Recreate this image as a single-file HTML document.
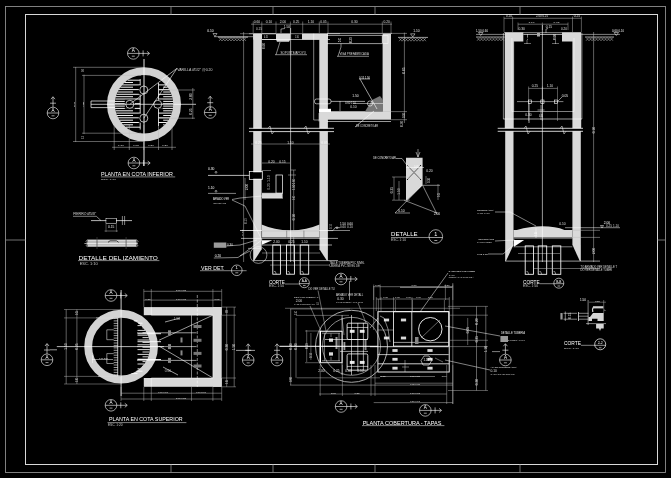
<!DOCTYPE html>
<html><head><meta charset="utf-8"><style>
html,body{margin:0;padding:0;background:#000;width:671px;height:478px;overflow:hidden}
svg{display:block;will-change:transform}
text{font-family:"Liberation Sans",sans-serif}
</style></head><body>
<svg width="671" height="478" viewBox="0 0 671 478" shape-rendering="auto">
<rect width="671" height="478" fill="#000"/>
<rect x="5.5" y="6.5" width="660.0" height="466.0" stroke="#8e8e8e" stroke-width="0.9" fill="none"/>
<rect x="25.5" y="14.5" width="632.0" height="450.0" stroke="#d8d8d8" stroke-width="1.0" fill="none"/>
<line x1="171.0" y1="6.5" x2="171.0" y2="14.5" stroke="#8e8e8e" stroke-width="0.8"/>
<line x1="171.0" y1="464.5" x2="171.0" y2="472.5" stroke="#8e8e8e" stroke-width="0.8"/>
<line x1="273.0" y1="6.5" x2="273.0" y2="14.5" stroke="#8e8e8e" stroke-width="0.8"/>
<line x1="273.0" y1="464.5" x2="273.0" y2="472.5" stroke="#8e8e8e" stroke-width="0.8"/>
<line x1="375.0" y1="6.5" x2="375.0" y2="14.5" stroke="#8e8e8e" stroke-width="0.8"/>
<line x1="375.0" y1="464.5" x2="375.0" y2="472.5" stroke="#8e8e8e" stroke-width="0.8"/>
<line x1="520.0" y1="6.5" x2="520.0" y2="14.5" stroke="#8e8e8e" stroke-width="0.8"/>
<line x1="520.0" y1="464.5" x2="520.0" y2="472.5" stroke="#8e8e8e" stroke-width="0.8"/>
<line x1="5.5" y1="240.0" x2="25.5" y2="240.0" stroke="#8e8e8e" stroke-width="0.8"/>
<line x1="657.5" y1="240.0" x2="665.5" y2="240.0" stroke="#8e8e8e" stroke-width="0.8"/>
<circle cx="144.0" cy="104.3" r="33.1" stroke="#d2d2d2" stroke-width="7.8" fill="none"/>
<line x1="127.5" y1="80.2" x2="140.2" y2="80.2" stroke="#ffffff" stroke-width="0.95"/>
<line x1="124.5" y1="82.5" x2="133.0" y2="82.5" stroke="#ffffff" stroke-width="0.95"/>
<line x1="122.2" y1="84.9" x2="140.2" y2="84.9" stroke="#ffffff" stroke-width="0.95"/>
<line x1="158.5" y1="84.9" x2="165.8" y2="84.9" stroke="#ffffff" stroke-width="0.95"/>
<line x1="120.3" y1="87.2" x2="133.0" y2="87.2" stroke="#ffffff" stroke-width="0.95"/>
<line x1="163.2" y1="87.2" x2="167.7" y2="87.2" stroke="#ffffff" stroke-width="0.95"/>
<line x1="118.8" y1="89.6" x2="140.2" y2="89.6" stroke="#ffffff" stroke-width="0.95"/>
<line x1="158.5" y1="89.6" x2="169.2" y2="89.6" stroke="#ffffff" stroke-width="0.95"/>
<line x1="117.5" y1="92.0" x2="133.0" y2="92.0" stroke="#ffffff" stroke-width="0.95"/>
<line x1="163.2" y1="92.0" x2="170.5" y2="92.0" stroke="#ffffff" stroke-width="0.95"/>
<line x1="116.6" y1="94.3" x2="140.2" y2="94.3" stroke="#ffffff" stroke-width="0.95"/>
<line x1="158.5" y1="94.3" x2="171.4" y2="94.3" stroke="#ffffff" stroke-width="0.95"/>
<line x1="115.8" y1="96.7" x2="133.0" y2="96.7" stroke="#ffffff" stroke-width="0.95"/>
<line x1="163.2" y1="96.7" x2="172.2" y2="96.7" stroke="#ffffff" stroke-width="0.95"/>
<line x1="115.3" y1="99.0" x2="140.2" y2="99.0" stroke="#ffffff" stroke-width="0.95"/>
<line x1="158.5" y1="99.0" x2="172.7" y2="99.0" stroke="#ffffff" stroke-width="0.95"/>
<line x1="114.9" y1="101.4" x2="133.0" y2="101.4" stroke="#ffffff" stroke-width="0.95"/>
<line x1="163.2" y1="101.4" x2="173.1" y2="101.4" stroke="#ffffff" stroke-width="0.95"/>
<line x1="114.8" y1="103.7" x2="140.2" y2="103.7" stroke="#ffffff" stroke-width="0.95"/>
<line x1="158.5" y1="103.7" x2="173.2" y2="103.7" stroke="#ffffff" stroke-width="0.95"/>
<line x1="114.9" y1="106.1" x2="133.0" y2="106.1" stroke="#ffffff" stroke-width="0.95"/>
<line x1="163.2" y1="106.1" x2="173.1" y2="106.1" stroke="#ffffff" stroke-width="0.95"/>
<line x1="115.1" y1="108.4" x2="140.2" y2="108.4" stroke="#ffffff" stroke-width="0.95"/>
<line x1="158.5" y1="108.4" x2="172.9" y2="108.4" stroke="#ffffff" stroke-width="0.95"/>
<line x1="115.5" y1="110.8" x2="133.0" y2="110.8" stroke="#ffffff" stroke-width="0.95"/>
<line x1="163.2" y1="110.8" x2="172.5" y2="110.8" stroke="#ffffff" stroke-width="0.95"/>
<line x1="116.2" y1="113.1" x2="140.2" y2="113.1" stroke="#ffffff" stroke-width="0.95"/>
<line x1="158.5" y1="113.1" x2="171.8" y2="113.1" stroke="#ffffff" stroke-width="0.95"/>
<line x1="117.0" y1="115.5" x2="133.0" y2="115.5" stroke="#ffffff" stroke-width="0.95"/>
<line x1="163.2" y1="115.5" x2="171.0" y2="115.5" stroke="#ffffff" stroke-width="0.95"/>
<line x1="118.1" y1="117.8" x2="140.2" y2="117.8" stroke="#ffffff" stroke-width="0.95"/>
<line x1="158.5" y1="117.8" x2="169.9" y2="117.8" stroke="#ffffff" stroke-width="0.95"/>
<line x1="119.5" y1="120.2" x2="133.0" y2="120.2" stroke="#ffffff" stroke-width="0.95"/>
<line x1="163.2" y1="120.2" x2="168.5" y2="120.2" stroke="#ffffff" stroke-width="0.95"/>
<line x1="121.2" y1="122.5" x2="140.2" y2="122.5" stroke="#ffffff" stroke-width="0.95"/>
<line x1="158.5" y1="122.5" x2="166.8" y2="122.5" stroke="#ffffff" stroke-width="0.95"/>
<line x1="123.3" y1="124.8" x2="133.0" y2="124.8" stroke="#ffffff" stroke-width="0.95"/>
<line x1="163.2" y1="124.8" x2="164.7" y2="124.8" stroke="#ffffff" stroke-width="0.95"/>
<line x1="125.9" y1="127.2" x2="140.2" y2="127.2" stroke="#ffffff" stroke-width="0.95"/>
<line x1="140.2" y1="79.0" x2="140.2" y2="129.5" stroke="#ffffff" stroke-width="0.8"/>
<line x1="158.5" y1="83.0" x2="158.5" y2="126.0" stroke="#ffffff" stroke-width="0.8"/>
<circle cx="143.8" cy="90.0" r="3.8" stroke="#000" stroke-width="0.1" fill="#000"/>
<rect x="138.8" y="85.5" width="10.0" height="9.0" fill="#000"/>
<circle cx="143.8" cy="90.0" r="4.0" stroke="#ffffff" stroke-width="0.7" fill="none"/>
<circle cx="129.8" cy="104.3" r="3.8" stroke="#000" stroke-width="0.1" fill="#000"/>
<rect x="124.8" y="99.8" width="10.0" height="9.0" fill="#000"/>
<circle cx="129.8" cy="104.3" r="4.0" stroke="#ffffff" stroke-width="0.7" fill="none"/>
<circle cx="157.7" cy="104.3" r="3.8" stroke="#000" stroke-width="0.1" fill="#000"/>
<rect x="152.7" y="99.8" width="10.0" height="9.0" fill="#000"/>
<circle cx="157.7" cy="104.3" r="4.0" stroke="#ffffff" stroke-width="0.7" fill="none"/>
<circle cx="143.8" cy="118.2" r="3.8" stroke="#000" stroke-width="0.1" fill="#000"/>
<rect x="138.8" y="113.7" width="10.0" height="9.0" fill="#000"/>
<circle cx="143.8" cy="118.2" r="4.0" stroke="#ffffff" stroke-width="0.7" fill="none"/>
<line x1="144.0" y1="59.0" x2="144.0" y2="166.0" stroke="#ffffff" stroke-width="0.9"/>
<line x1="91.0" y1="104.3" x2="196.0" y2="104.3" stroke="#ffffff" stroke-width="0.7"/>
<line x1="91.0" y1="101.0" x2="115.0" y2="101.0" stroke="#ffffff" stroke-width="0.7"/>
<line x1="91.0" y1="107.6" x2="115.0" y2="107.6" stroke="#ffffff" stroke-width="0.7"/>
<line x1="91.0" y1="101.0" x2="91.0" y2="107.6" stroke="#ffffff" stroke-width="0.7"/>
<line x1="177.0" y1="68.3" x2="129.8" y2="104.3" stroke="#ffffff" stroke-width="0.6"/>
<line x1="177.0" y1="68.3" x2="143.8" y2="118.2" stroke="#ffffff" stroke-width="0.6"/>
<text x="177.2" y="71.3" font-size="4.2" fill="#d0d0d0" text-anchor="start" textLength="35.3" lengthAdjust="spacingAndGlyphs">VARILLA Ø1/2" @0.20</text>
<line x1="75.7" y1="67.0" x2="75.7" y2="142.0" stroke="#bdbdbd" stroke-width="0.5"/>
<line x1="84.0" y1="74.7" x2="84.0" y2="134.0" stroke="#bdbdbd" stroke-width="0.5"/>
<line x1="73.0" y1="67.3" x2="143.0" y2="67.3" stroke="#bdbdbd" stroke-width="0.5"/>
<line x1="73.0" y1="141.5" x2="143.0" y2="141.5" stroke="#bdbdbd" stroke-width="0.5"/>
<line x1="82.0" y1="75.4" x2="141.0" y2="75.4" stroke="#bdbdbd" stroke-width="0.5"/>
<line x1="82.0" y1="133.2" x2="141.0" y2="133.2" stroke="#bdbdbd" stroke-width="0.5"/>
<text x="75.1" y="107.0" font-size="2.21" fill="#ffffff" opacity="1.00" textLength="5.0" lengthAdjust="spacingAndGlyphs" transform="rotate(-90 75.1 107.0)">0.15</text>
<text x="83.5" y="107.0" font-size="2.08" fill="#ffffff" opacity="1.00" textLength="5.0" lengthAdjust="spacingAndGlyphs" transform="rotate(-90 83.5 107.0)">1.50</text>
<text x="83.9" y="72.0" font-size="2.60" fill="#ffffff" opacity="0.85" textLength="3.0" lengthAdjust="spacingAndGlyphs" transform="rotate(-90 83.9 72.0)">0.60</text>
<text x="83.9" y="139.0" font-size="2.60" fill="#ffffff" opacity="0.85" textLength="3.0" lengthAdjust="spacingAndGlyphs" transform="rotate(-90 83.9 139.0)">0.10</text>
<line x1="192.8" y1="88.0" x2="192.8" y2="119.0" stroke="#bdbdbd" stroke-width="0.5"/>
<line x1="158.0" y1="90.0" x2="195.0" y2="90.0" stroke="#bdbdbd" stroke-width="0.5"/>
<line x1="158.0" y1="118.2" x2="195.0" y2="118.2" stroke="#bdbdbd" stroke-width="0.5"/>
<text x="191.9" y="99.7" font-size="2.60" fill="#ffffff" opacity="0.85" textLength="6.4" lengthAdjust="spacingAndGlyphs" transform="rotate(-90 191.9 99.7)">2.00</text>
<text x="191.9" y="114.7" font-size="2.60" fill="#ffffff" opacity="0.85" textLength="6.4" lengthAdjust="spacingAndGlyphs" transform="rotate(-90 191.9 114.7)">0.25</text>
<line x1="112.0" y1="147.3" x2="176.0" y2="147.3" stroke="#bdbdbd" stroke-width="0.5"/>
<line x1="114.2" y1="125.0" x2="114.2" y2="150.0" stroke="#bdbdbd" stroke-width="0.5"/>
<line x1="129.3" y1="125.0" x2="129.3" y2="150.0" stroke="#bdbdbd" stroke-width="0.5"/>
<line x1="143.8" y1="125.0" x2="143.8" y2="150.0" stroke="#bdbdbd" stroke-width="0.5"/>
<line x1="158.5" y1="125.0" x2="158.5" y2="150.0" stroke="#bdbdbd" stroke-width="0.5"/>
<line x1="172.0" y1="125.0" x2="172.0" y2="150.0" stroke="#bdbdbd" stroke-width="0.5"/>
<text x="118.1" y="146.2" font-size="2.34" fill="#ffffff" opacity="0.85" textLength="5.8" lengthAdjust="spacingAndGlyphs">1.10</text>
<text x="133.1" y="146.2" font-size="2.34" fill="#ffffff" opacity="0.85" textLength="5.8" lengthAdjust="spacingAndGlyphs">0.05</text>
<text x="148.1" y="146.2" font-size="2.34" fill="#ffffff" opacity="0.85" textLength="5.8" lengthAdjust="spacingAndGlyphs">0.30</text>
<text x="162.1" y="146.2" font-size="2.34" fill="#ffffff" opacity="0.85" textLength="5.8" lengthAdjust="spacingAndGlyphs">0.20</text>
<circle cx="133.3" cy="53.4" r="5.8" stroke="#ffffff" stroke-width="0.6" fill="none"/>
<line x1="127.5" y1="53.4" x2="139.1" y2="53.4" stroke="#ffffff" stroke-width="0.6"/>
<text x="133.3" y="52.2" font-size="4.5" fill="#ffffff" text-anchor="middle">A</text>
<line x1="131.8" y1="56.2" x2="134.8" y2="56.2" stroke="#ffffff" stroke-width="0.6"/>
<line x1="139.1" y1="53.4" x2="149.1" y2="53.4" stroke="#ffffff" stroke-width="0.6"/>
<polyline points="147.1,51.4 149.6,53.4 147.1,55.4" stroke="#ffffff" stroke-width="0.6" fill="none"/>
<line x1="143.1" y1="50.4" x2="143.1" y2="56.4" stroke="#ffffff" stroke-width="0.6"/>
<circle cx="53.0" cy="113.0" r="5.8" stroke="#ffffff" stroke-width="0.6" fill="none"/>
<line x1="47.2" y1="113.0" x2="58.8" y2="113.0" stroke="#ffffff" stroke-width="0.6"/>
<text x="53.0" y="111.8" font-size="4.5" fill="#ffffff" text-anchor="middle">A</text>
<line x1="51.5" y1="115.8" x2="54.5" y2="115.8" stroke="#ffffff" stroke-width="0.6"/>
<line x1="53.0" y1="107.2" x2="53.0" y2="97.2" stroke="#ffffff" stroke-width="0.6"/>
<polyline points="51.0,99.2 53.0,96.7 55.0,99.2" stroke="#ffffff" stroke-width="0.6" fill="none"/>
<line x1="50.0" y1="103.2" x2="56.0" y2="103.2" stroke="#ffffff" stroke-width="0.6"/>
<circle cx="210.2" cy="112.5" r="5.8" stroke="#ffffff" stroke-width="0.6" fill="none"/>
<line x1="204.4" y1="112.5" x2="216.0" y2="112.5" stroke="#ffffff" stroke-width="0.6"/>
<text x="210.2" y="111.3" font-size="4.5" fill="#ffffff" text-anchor="middle">A</text>
<line x1="208.7" y1="115.3" x2="211.7" y2="115.3" stroke="#ffffff" stroke-width="0.6"/>
<line x1="210.2" y1="106.7" x2="210.2" y2="96.7" stroke="#ffffff" stroke-width="0.6"/>
<polyline points="208.2,98.7 210.2,96.2 212.2,98.7" stroke="#ffffff" stroke-width="0.6" fill="none"/>
<line x1="207.2" y1="102.7" x2="213.2" y2="102.7" stroke="#ffffff" stroke-width="0.6"/>
<circle cx="133.9" cy="163.0" r="5.8" stroke="#ffffff" stroke-width="0.6" fill="none"/>
<line x1="128.1" y1="163.0" x2="139.7" y2="163.0" stroke="#ffffff" stroke-width="0.6"/>
<text x="133.9" y="161.8" font-size="4.5" fill="#ffffff" text-anchor="middle">A</text>
<line x1="132.4" y1="165.8" x2="135.4" y2="165.8" stroke="#ffffff" stroke-width="0.6"/>
<line x1="139.7" y1="163.0" x2="149.7" y2="163.0" stroke="#ffffff" stroke-width="0.6"/>
<polyline points="147.7,161.0 150.2,163.0 147.7,165.0" stroke="#ffffff" stroke-width="0.6" fill="none"/>
<line x1="143.7" y1="160.0" x2="143.7" y2="166.0" stroke="#ffffff" stroke-width="0.6"/>
<text x="101.0" y="176.0" font-size="5" fill="#ffffff" text-anchor="start" textLength="71.8" lengthAdjust="spacingAndGlyphs">PLANTA  EN  COTA  INFERIOR</text>
<line x1="101.0" y1="176.9" x2="175.2" y2="176.9" stroke="#ffffff" stroke-width="0.5"/>
<text x="101.0" y="180.2" font-size="2.4" fill="#cccccc" text-anchor="start" textLength="15.0" lengthAdjust="spacingAndGlyphs">ESC. 1:10</text>
<polygon points="253.2,33.7 261.8,33.7 261.8,128.5 253.2,128.5" fill="#d9d9d9"/>
<polygon points="253.2,131.6 261.6,131.6 261.6,249.3 254.3,260.6 253.2,260.6" fill="#d9d9d9"/>
<polygon points="319.3,39.5 327.9,39.5 327.9,128.5 319.3,128.5" fill="#d9d9d9"/>
<polygon points="319.5,131.6 327.9,131.6 327.9,260.6 326.8,260.6 319.5,249.3" fill="#d9d9d9"/>
<line x1="249.0" y1="128.3" x2="334.0" y2="128.3" stroke="#ffffff" stroke-width="0.8"/>
<line x1="249.0" y1="131.6" x2="334.0" y2="131.6" stroke="#ffffff" stroke-width="0.8"/>
<polyline points="268.0,128.3 270.0,126.0 272.0,134.0 274.0,131.6" stroke="#ffffff" stroke-width="0.5" fill="none"/>
<polyline points="304.0,128.3 306.0,126.0 308.0,134.0 310.0,131.6" stroke="#ffffff" stroke-width="0.5" fill="none"/>
<rect x="253.2" y="33.7" width="8.8" height="5.8" fill="#d9d9d9"/>
<rect x="302.0" y="33.7" width="26.0" height="5.8" fill="#d9d9d9"/>
<line x1="262.0" y1="33.7" x2="276.0" y2="33.7" stroke="#ffffff" stroke-width="0.6"/>
<line x1="262.0" y1="39.5" x2="276.0" y2="39.5" stroke="#ffffff" stroke-width="0.6"/>
<polygon points="276.0,33.7 290.4,33.7 290.4,39.5 289.0,41.8 277.0,41.8 276.0,39.5" fill="#d9d9d9"/>
<line x1="249.0" y1="33.7" x2="340.0" y2="33.7" stroke="#ffffff" stroke-width="0.5"/>
<line x1="262.0" y1="39.5" x2="330.0" y2="39.5" stroke="#ffffff" stroke-width="0.6"/>
<text x="264.0" y="37.7" font-size="2.60" fill="#ffffff" opacity="0.85" textLength="4.0" lengthAdjust="spacingAndGlyphs">0.15</text>
<text x="295.0" y="37.7" font-size="2.60" fill="#ffffff" opacity="0.85" textLength="4.0" lengthAdjust="spacingAndGlyphs">1.50</text>
<line x1="313.7" y1="33.7" x2="313.7" y2="120.0" stroke="#ffffff" stroke-width="0.5"/>
<line x1="313.7" y1="120.0" x2="320.0" y2="120.0" stroke="#ffffff" stroke-width="0.5"/>
<line x1="251.0" y1="24.2" x2="392.0" y2="24.2" stroke="#bdbdbd" stroke-width="0.5"/>
<line x1="253.2" y1="21.5" x2="253.2" y2="33.0" stroke="#bdbdbd" stroke-width="0.45"/>
<line x1="261.8" y1="21.5" x2="261.8" y2="33.0" stroke="#bdbdbd" stroke-width="0.45"/>
<line x1="276.0" y1="21.5" x2="276.0" y2="33.0" stroke="#bdbdbd" stroke-width="0.45"/>
<line x1="290.4" y1="21.5" x2="290.4" y2="33.0" stroke="#bdbdbd" stroke-width="0.45"/>
<line x1="302.7" y1="21.5" x2="302.7" y2="33.0" stroke="#bdbdbd" stroke-width="0.45"/>
<line x1="319.3" y1="21.5" x2="319.3" y2="33.0" stroke="#bdbdbd" stroke-width="0.45"/>
<line x1="328.0" y1="21.5" x2="328.0" y2="33.0" stroke="#bdbdbd" stroke-width="0.45"/>
<line x1="382.3" y1="21.5" x2="382.3" y2="33.0" stroke="#bdbdbd" stroke-width="0.45"/>
<line x1="391.0" y1="21.5" x2="391.0" y2="33.0" stroke="#bdbdbd" stroke-width="0.45"/>
<text x="253.8" y="22.5" font-size="2.60" fill="#ffffff" opacity="0.85" textLength="6.4" lengthAdjust="spacingAndGlyphs">0.60</text>
<text x="265.8" y="22.5" font-size="2.60" fill="#ffffff" opacity="0.85" textLength="6.4" lengthAdjust="spacingAndGlyphs">0.10</text>
<text x="279.8" y="22.5" font-size="2.60" fill="#ffffff" opacity="0.85" textLength="6.4" lengthAdjust="spacingAndGlyphs">2.00</text>
<text x="293.0" y="22.5" font-size="2.60" fill="#ffffff" opacity="0.85" textLength="6.4" lengthAdjust="spacingAndGlyphs">0.25</text>
<text x="307.8" y="22.5" font-size="2.60" fill="#ffffff" opacity="0.85" textLength="6.4" lengthAdjust="spacingAndGlyphs">1.10</text>
<text x="320.3" y="22.5" font-size="2.60" fill="#ffffff" opacity="0.85" textLength="6.4" lengthAdjust="spacingAndGlyphs">0.05</text>
<text x="351.3" y="22.5" font-size="2.60" fill="#ffffff" opacity="0.85" textLength="6.4" lengthAdjust="spacingAndGlyphs">0.30</text>
<text x="383.5" y="22.5" font-size="2.60" fill="#ffffff" opacity="0.85" textLength="6.4" lengthAdjust="spacingAndGlyphs">0.20</text>
<text x="256.0" y="29.9" font-size="2.60" fill="#ffffff" opacity="0.77" textLength="6.0" lengthAdjust="spacingAndGlyphs">0.15</text>
<text x="283.8" y="28.2" font-size="2.60" fill="#ffffff" opacity="0.85" textLength="6.4" lengthAdjust="spacingAndGlyphs">1.50</text>
<polyline points="285.0,28.5 281.0,29.0 281.0,33.0" stroke="#ffffff" stroke-width="0.5" fill="none"/>
<text x="265.2" y="49.0" font-size="2.60" fill="#ffffff" opacity="0.85" textLength="6.0" lengthAdjust="spacingAndGlyphs" transform="rotate(-90 265.2 49.0)">0.60</text>
<text x="280.5" y="53.5" font-size="3.4" fill="#d8d8d8" text-anchor="start" textLength="25.5" lengthAdjust="spacingAndGlyphs">SOPORTE/APOYO</text>
<line x1="275.0" y1="54.7" x2="307.0" y2="54.7" stroke="#ffffff" stroke-width="0.5"/>
<line x1="276.0" y1="54.7" x2="280.0" y2="42.0" stroke="#ffffff" stroke-width="0.5"/>
<text x="207.3" y="31.8" font-size="2.60" fill="#ffffff" opacity="1.00" textLength="6.4" lengthAdjust="spacingAndGlyphs">0.10</text>
<polygon points="213.0,33.5 217.0,33.5 215.0,36.5" stroke="#ffffff" stroke-width="0.5" fill="none"/>
<line x1="214.0" y1="36.7" x2="253.0" y2="36.7" stroke="#ffffff" stroke-width="0.5"/>
<line x1="218.0" y1="37.2" x2="248.0" y2="37.2" stroke="#ffffff" stroke-width="0.6"/>
<line x1="219.0" y1="41.0" x2="222.0" y2="37.6" stroke="#b0b0b0" stroke-width="0.55"/>
<line x1="219.0" y1="37.6" x2="222.0" y2="41.0" stroke="#b0b0b0" stroke-width="0.55"/>
<line x1="222.0" y1="41.0" x2="225.0" y2="37.6" stroke="#b0b0b0" stroke-width="0.55"/>
<line x1="222.0" y1="37.6" x2="225.0" y2="41.0" stroke="#b0b0b0" stroke-width="0.55"/>
<line x1="225.0" y1="41.0" x2="228.0" y2="37.6" stroke="#b0b0b0" stroke-width="0.55"/>
<line x1="225.0" y1="37.6" x2="228.0" y2="41.0" stroke="#b0b0b0" stroke-width="0.55"/>
<line x1="228.0" y1="41.0" x2="231.0" y2="37.6" stroke="#b0b0b0" stroke-width="0.55"/>
<line x1="228.0" y1="37.6" x2="231.0" y2="41.0" stroke="#b0b0b0" stroke-width="0.55"/>
<line x1="231.0" y1="41.0" x2="234.0" y2="37.6" stroke="#b0b0b0" stroke-width="0.55"/>
<line x1="231.0" y1="37.6" x2="234.0" y2="41.0" stroke="#b0b0b0" stroke-width="0.55"/>
<line x1="234.0" y1="41.0" x2="237.0" y2="37.6" stroke="#b0b0b0" stroke-width="0.55"/>
<line x1="234.0" y1="37.6" x2="237.0" y2="41.0" stroke="#b0b0b0" stroke-width="0.55"/>
<line x1="237.0" y1="41.0" x2="240.0" y2="37.6" stroke="#b0b0b0" stroke-width="0.55"/>
<line x1="237.0" y1="37.6" x2="240.0" y2="41.0" stroke="#b0b0b0" stroke-width="0.55"/>
<line x1="240.0" y1="41.0" x2="243.0" y2="37.6" stroke="#b0b0b0" stroke-width="0.55"/>
<line x1="240.0" y1="37.6" x2="243.0" y2="41.0" stroke="#b0b0b0" stroke-width="0.55"/>
<line x1="243.0" y1="41.0" x2="246.0" y2="37.6" stroke="#b0b0b0" stroke-width="0.55"/>
<line x1="243.0" y1="37.6" x2="246.0" y2="41.0" stroke="#b0b0b0" stroke-width="0.55"/>
<line x1="243.6" y1="32.0" x2="243.6" y2="262.0" stroke="#bdbdbd" stroke-width="0.5"/>
<line x1="240.0" y1="33.7" x2="253.0" y2="33.7" stroke="#bdbdbd" stroke-width="0.5"/>
<line x1="327.0" y1="33.4" x2="392.0" y2="33.4" stroke="#ffffff" stroke-width="0.6"/>
<line x1="327.0" y1="35.4" x2="390.0" y2="35.4" stroke="#ffffff" stroke-width="0.6"/>
<line x1="327.0" y1="43.6" x2="382.3" y2="43.6" stroke="#ffffff" stroke-width="0.6"/>
<line x1="382.3" y1="35.4" x2="382.3" y2="43.6" stroke="#ffffff" stroke-width="0.6"/>
<rect x="382.6" y="33.7" width="8.4" height="77.9" fill="#d9d9d9"/>
<rect x="382.8" y="35.8" width="5.2" height="7.7" stroke="#ffffff" stroke-width="0.5" fill="none"/>
<rect x="319.3" y="111.6" width="71.7" height="8.1" fill="#d9d9d9"/>
<line x1="327.0" y1="121.5" x2="391.0" y2="121.5" stroke="#ffffff" stroke-width="0.6"/>
<line x1="327.0" y1="111.6" x2="391.0" y2="111.6" stroke="#ffffff" stroke-width="0.5"/>
<text x="341.4" y="42.0" font-size="2.60" fill="#ffffff" opacity="1.00" textLength="4.0" lengthAdjust="spacingAndGlyphs" transform="rotate(-90 341.4 42.0)">2.00</text>
<text x="351.9" y="43.0" font-size="2.60" fill="#ffffff" opacity="1.00" textLength="6.0" lengthAdjust="spacingAndGlyphs" transform="rotate(-90 351.9 43.0)">0.25</text>
<text x="339.4" y="55.0" font-size="3.4" fill="#d8d8d8" text-anchor="start" textLength="29.5" lengthAdjust="spacingAndGlyphs">VIGA PREFABRICADA</text>
<line x1="337.0" y1="56.3" x2="369.0" y2="56.3" stroke="#ffffff" stroke-width="0.5"/>
<polyline points="338.0,56.3 341.0,47.0 341.0,43.6" stroke="#ffffff" stroke-width="0.5" fill="none"/>
<line x1="391.0" y1="33.4" x2="407.0" y2="33.4" stroke="#bdbdbd" stroke-width="0.5"/>
<line x1="398.0" y1="37.4" x2="428.0" y2="37.4" stroke="#ffffff" stroke-width="0.6"/>
<line x1="399.0" y1="41.2" x2="402.0" y2="37.8" stroke="#b0b0b0" stroke-width="0.55"/>
<line x1="399.0" y1="37.8" x2="402.0" y2="41.2" stroke="#b0b0b0" stroke-width="0.55"/>
<line x1="402.0" y1="41.2" x2="405.0" y2="37.8" stroke="#b0b0b0" stroke-width="0.55"/>
<line x1="402.0" y1="37.8" x2="405.0" y2="41.2" stroke="#b0b0b0" stroke-width="0.55"/>
<line x1="405.0" y1="41.2" x2="408.0" y2="37.8" stroke="#b0b0b0" stroke-width="0.55"/>
<line x1="405.0" y1="37.8" x2="408.0" y2="41.2" stroke="#b0b0b0" stroke-width="0.55"/>
<line x1="408.0" y1="41.2" x2="411.0" y2="37.8" stroke="#b0b0b0" stroke-width="0.55"/>
<line x1="408.0" y1="37.8" x2="411.0" y2="41.2" stroke="#b0b0b0" stroke-width="0.55"/>
<line x1="411.0" y1="41.2" x2="414.0" y2="37.8" stroke="#b0b0b0" stroke-width="0.55"/>
<line x1="411.0" y1="37.8" x2="414.0" y2="41.2" stroke="#b0b0b0" stroke-width="0.55"/>
<line x1="414.0" y1="41.2" x2="417.0" y2="37.8" stroke="#b0b0b0" stroke-width="0.55"/>
<line x1="414.0" y1="37.8" x2="417.0" y2="41.2" stroke="#b0b0b0" stroke-width="0.55"/>
<line x1="417.0" y1="41.2" x2="420.0" y2="37.8" stroke="#b0b0b0" stroke-width="0.55"/>
<line x1="417.0" y1="37.8" x2="420.0" y2="41.2" stroke="#b0b0b0" stroke-width="0.55"/>
<line x1="420.0" y1="41.2" x2="423.0" y2="37.8" stroke="#b0b0b0" stroke-width="0.55"/>
<line x1="420.0" y1="37.8" x2="423.0" y2="41.2" stroke="#b0b0b0" stroke-width="0.55"/>
<line x1="423.0" y1="41.2" x2="426.0" y2="37.8" stroke="#b0b0b0" stroke-width="0.55"/>
<line x1="423.0" y1="37.8" x2="426.0" y2="41.2" stroke="#b0b0b0" stroke-width="0.55"/>
<polygon points="410.5,33.8 415.0,33.8 412.8,37.0" stroke="#ffffff" stroke-width="0.5" fill="none"/>
<text x="413.3" y="31.5" font-size="2.60" fill="#ffffff" opacity="0.94" textLength="6.4" lengthAdjust="spacingAndGlyphs">1.10</text>
<line x1="404.4" y1="32.6" x2="404.4" y2="123.0" stroke="#bdbdbd" stroke-width="0.5"/>
<line x1="391.0" y1="111.6" x2="407.0" y2="111.6" stroke="#bdbdbd" stroke-width="0.5"/>
<line x1="391.0" y1="119.7" x2="407.0" y2="119.7" stroke="#bdbdbd" stroke-width="0.5"/>
<text x="405.2" y="73.7" font-size="2.60" fill="#ffffff" opacity="0.85" textLength="6.4" lengthAdjust="spacingAndGlyphs" transform="rotate(-90 405.2 73.7)">0.05</text>
<text x="405.2" y="118.0" font-size="2.60" fill="#ffffff" opacity="0.85" textLength="5.0" lengthAdjust="spacingAndGlyphs" transform="rotate(-90 405.2 118.0)">0.30</text>
<text x="403.4" y="127.0" font-size="2.60" fill="#ffffff" opacity="0.85" textLength="6.0" lengthAdjust="spacingAndGlyphs" transform="rotate(-90 403.4 127.0)">0.20</text>
<polygon points="365.0,111.6 372.0,100.0 380.0,96.0 383.0,100.0 383.0,111.6" fill="#777"/>
<circle cx="370.0" cy="103.5" r="2.6" stroke="#ffffff" stroke-width="0.6" fill="none"/>
<line x1="353.0" y1="103.5" x2="383.0" y2="103.5" stroke="#ffffff" stroke-width="0.5"/>
<rect x="314.5" y="99" width="16.5" height="4.8" rx="2" stroke="#fff" stroke-width="0.6" fill="none"/>
<rect x="319.0" y="108.8" width="12.0" height="3.2" fill="#ffffff"/>
<line x1="331.0" y1="101.4" x2="365.0" y2="101.4" stroke="#ffffff" stroke-width="0.6"/>
<line x1="340.0" y1="101.0" x2="340.0" y2="111.0" stroke="#ffffff" stroke-width="0.5"/>
<line x1="360.0" y1="79.0" x2="377.0" y2="109.0" stroke="#ffffff" stroke-width="0.6"/>
<text x="359.0" y="78.7" font-size="2.60" fill="#ffffff" opacity="1.00" textLength="11.0" lengthAdjust="spacingAndGlyphs">0.15 1.50</text>
<line x1="359.0" y1="79.0" x2="370.0" y2="79.0" stroke="#ffffff" stroke-width="0.5"/>
<text x="352.3" y="97.4" font-size="2.60" fill="#ffffff" opacity="0.94" textLength="6.4" lengthAdjust="spacingAndGlyphs">1.50</text>
<text x="345.0" y="104.2" font-size="2.60" fill="#ffffff" opacity="0.85" textLength="11.0" lengthAdjust="spacingAndGlyphs">0.60 0.10</text>
<text x="350.3" y="108.4" font-size="2.60" fill="#ffffff" opacity="0.85" textLength="6.4" lengthAdjust="spacingAndGlyphs">0.10</text>
<line x1="374.0" y1="111.0" x2="355.0" y2="127.0" stroke="#ffffff" stroke-width="0.6"/>
<text x="356.0" y="126.7" font-size="2.60" fill="#ffffff" opacity="0.85" textLength="22.0" lengthAdjust="spacingAndGlyphs">DE CONCRETO AR</text>
<line x1="319.0" y1="113.0" x2="319.0" y2="121.5" stroke="#ffffff" stroke-width="0.5"/>
<line x1="251.0" y1="144.0" x2="330.0" y2="144.0" stroke="#bdbdbd" stroke-width="0.5"/>
<text x="255.3" y="144.4" font-size="2.60" fill="#ffffff" opacity="0.85" textLength="6.4" lengthAdjust="spacingAndGlyphs">0.25</text>
<text x="287.3" y="144.4" font-size="2.60" fill="#ffffff" opacity="0.85" textLength="6.4" lengthAdjust="spacingAndGlyphs">1.10</text>
<text x="321.3" y="144.4" font-size="2.60" fill="#ffffff" opacity="0.85" textLength="6.4" lengthAdjust="spacingAndGlyphs">0.05</text>
<rect x="249.3" y="171.6" width="13.2" height="7.8" stroke="#ffffff" stroke-width="0.7" fill="none"/>
<rect x="250.0" y="172.3" width="11.8" height="6.4" fill="#000"/>
<line x1="208.0" y1="175.4" x2="249.3" y2="175.4" stroke="#ffffff" stroke-width="0.7"/>
<circle cx="216.0" cy="172.3" r="0.9" stroke="#ffffff" stroke-width="0.5" fill="none"/>
<text x="208.0" y="170.3" font-size="2.60" fill="#ffffff" opacity="1.00" textLength="6.4" lengthAdjust="spacingAndGlyphs">0.30</text>
<rect x="276.0" y="175.0" width="6.6" height="18.2" stroke="#ffffff" stroke-width="0.7" fill="none"/>
<rect x="262.0" y="193.2" width="20.6" height="5.0" fill="#d9d9d9"/>
<line x1="262.0" y1="193.2" x2="283.0" y2="193.2" stroke="#ffffff" stroke-width="0.5"/>
<line x1="262.0" y1="198.2" x2="283.0" y2="198.2" stroke="#ffffff" stroke-width="0.5"/>
<line x1="262.0" y1="163.0" x2="290.0" y2="163.0" stroke="#bdbdbd" stroke-width="0.5"/>
<text x="268.3" y="162.9" font-size="2.60" fill="#ffffff" opacity="0.85" textLength="6.4" lengthAdjust="spacingAndGlyphs">0.20</text>
<text x="279.3" y="162.9" font-size="2.60" fill="#ffffff" opacity="0.85" textLength="6.4" lengthAdjust="spacingAndGlyphs">0.15</text>
<line x1="290.6" y1="170.0" x2="296.0" y2="170.0" stroke="#bdbdbd" stroke-width="0.5"/>
<line x1="288.0" y1="175.0" x2="296.0" y2="175.0" stroke="#bdbdbd" stroke-width="0.5"/>
<line x1="293.7" y1="170.0" x2="293.7" y2="262.0" stroke="#bdbdbd" stroke-width="0.5"/>
<text x="294.7" y="190.0" font-size="2.60" fill="#ffffff" opacity="0.85" textLength="11.0" lengthAdjust="spacingAndGlyphs" transform="rotate(-90 294.7 190.0)">1.50 0.60</text>
<text x="294.7" y="200.0" font-size="2.60" fill="#ffffff" opacity="0.85" textLength="4.0" lengthAdjust="spacingAndGlyphs" transform="rotate(-90 294.7 200.0)">0.60</text>
<text x="294.7" y="220.2" font-size="2.60" fill="#ffffff" opacity="0.85" textLength="6.4" lengthAdjust="spacingAndGlyphs" transform="rotate(-90 294.7 220.2)">0.10</text>
<line x1="245.0" y1="178.0" x2="245.0" y2="200.0" stroke="#bdbdbd" stroke-width="0.5"/>
<text x="247.9" y="190.2" font-size="2.60" fill="#ffffff" opacity="0.85" textLength="6.4" lengthAdjust="spacingAndGlyphs" transform="rotate(-90 247.9 190.2)">2.00</text>
<line x1="262.0" y1="170.5" x2="271.0" y2="170.5" stroke="#bdbdbd" stroke-width="0.5"/>
<text x="269.9" y="189.8" font-size="2.60" fill="#ffffff" opacity="0.68" textLength="14.5" lengthAdjust="spacingAndGlyphs" transform="rotate(-90 269.9 189.8)">0.25 1.10</text>
<text x="208.0" y="189.2" font-size="2.60" fill="#ffffff" opacity="1.00" textLength="6.4" lengthAdjust="spacingAndGlyphs">1.10</text>
<circle cx="216.0" cy="191.3" r="0.9" stroke="#ffffff" stroke-width="0.5" fill="none"/>
<line x1="208.0" y1="193.4" x2="236.0" y2="193.4" stroke="#ffffff" stroke-width="0.5"/>
<text x="212.9" y="200.4" font-size="2.60" fill="#ffffff" opacity="0.94" textLength="16.1" lengthAdjust="spacingAndGlyphs">ARMADO VER</text>
<text x="212.9" y="203.5" font-size="1.95" fill="#ffffff" opacity="0.77" textLength="13.3" lengthAdjust="spacingAndGlyphs">VER DETALLE</text>
<polyline points="232.0,199.5 240.0,198.0 262.0,196.0" stroke="#ffffff" stroke-width="0.5" fill="none"/>
<polyline points="232.0,200.0 245.0,206.0 262.0,240.0" stroke="#ffffff" stroke-width="0.5" fill="none"/>
<path d="M261.6,224.5 Q274,230 290.6,230.6 Q307,230 319.5,224.5 L319.5,237.6 L261.6,237.6 Z" fill="#d9d9d9"/>
<line x1="261.6" y1="230.6" x2="319.5" y2="230.6" stroke="#666" stroke-width="0.5"/>
<line x1="240.0" y1="230.5" x2="350.0" y2="230.5" stroke="#ffffff" stroke-width="0.5"/>
<line x1="241.0" y1="238.4" x2="338.0" y2="238.4" stroke="#ffffff" stroke-width="0.6"/>
<line x1="261.6" y1="245.0" x2="332.0" y2="245.0" stroke="#ffffff" stroke-width="0.6"/>
<line x1="262.0" y1="253.0" x2="320.0" y2="253.0" stroke="#bdbdbd" stroke-width="0.5"/>
<line x1="253.0" y1="260.6" x2="338.0" y2="260.6" stroke="#ffffff" stroke-width="0.6"/>
<polygon points="261.8,240.3 272.3,240.3 261.8,244.7" fill="#ffffff"/>
<line x1="248.0" y1="248.4" x2="261.6" y2="248.4" stroke="#ffffff" stroke-width="0.5"/>
<line x1="261.6" y1="230.6" x2="261.6" y2="238.4" stroke="#555" stroke-width="0.5"/>
<line x1="286.7" y1="230.6" x2="286.7" y2="238.4" stroke="#555" stroke-width="0.5"/>
<line x1="303.9" y1="230.6" x2="303.9" y2="238.4" stroke="#555" stroke-width="0.5"/>
<line x1="270.0" y1="265.1" x2="330.0" y2="265.1" stroke="#bdbdbd" stroke-width="0.5"/>
<text x="329.5" y="264.1" font-size="2.60" fill="#ffffff" opacity="0.85" textLength="35.1" lengthAdjust="spacingAndGlyphs">TALLE TUBERIA PVC NIVEL</text>
<text x="329.5" y="267.2" font-size="2.60" fill="#ffffff" opacity="0.77" textLength="30.5" lengthAdjust="spacingAndGlyphs">UBERIA PVC NIVEL DE</text>
<polyline points="319.5,230.6 333.0,230.6 335.0,227.7 340.0,227.7" stroke="#ffffff" stroke-width="0.5" fill="none"/>
<circle cx="337.0" cy="227.7" r="0.9" stroke="#ffffff" stroke-width="0.5" fill="none"/>
<text x="340.0" y="224.6" font-size="2.60" fill="#ffffff" opacity="0.94" textLength="13.0" lengthAdjust="spacingAndGlyphs">1.50 0.60</text>
<text x="340.0" y="227.7" font-size="2.60" fill="#ffffff" opacity="0.77" textLength="13.0" lengthAdjust="spacingAndGlyphs">0.60 0.10</text>
<text x="332.4" y="229.0" font-size="2.60" fill="#ffffff" opacity="0.68" textLength="5.0" lengthAdjust="spacingAndGlyphs" transform="rotate(-90 332.4 229.0)">0.10</text>
<rect x="272.8" y="245.0" width="7.6" height="29.2" stroke="#ffffff" stroke-width="0.85" fill="none"/>
<polyline points="274.0,271.5 275.3,271.5 276.3,274.2" stroke="#ffffff" stroke-width="0.5" fill="none"/>
<rect x="286.5" y="245.0" width="7.9" height="29.2" stroke="#ffffff" stroke-width="0.85" fill="none"/>
<polyline points="287.7,271.5 289.0,271.5 290.0,274.2" stroke="#ffffff" stroke-width="0.5" fill="none"/>
<rect x="300.2" y="245.0" width="8.5" height="29.2" stroke="#ffffff" stroke-width="0.85" fill="none"/>
<polyline points="301.4,271.5 302.7,271.5 303.7,274.2" stroke="#ffffff" stroke-width="0.5" fill="none"/>
<text x="273.3" y="242.9" font-size="2.60" fill="#ffffff" opacity="0.85" textLength="6.4" lengthAdjust="spacingAndGlyphs">2.00</text>
<text x="288.3" y="242.9" font-size="2.60" fill="#ffffff" opacity="0.85" textLength="6.4" lengthAdjust="spacingAndGlyphs">0.25</text>
<text x="301.3" y="242.9" font-size="2.60" fill="#ffffff" opacity="0.85" textLength="6.4" lengthAdjust="spacingAndGlyphs">1.10</text>
<line x1="290.6" y1="28.0" x2="290.6" y2="262.0" stroke="#ffffff" stroke-width="0.6"/>
<circle cx="258.5" cy="255.0" r="8.4" stroke="#ffffff" stroke-width="0.5" fill="none"/>
<line x1="250.0" y1="251.0" x2="240.0" y2="256.0" stroke="#ffffff" stroke-width="0.5"/>
<text x="243.2" y="235.4" font-size="2.34" fill="#ffffff" opacity="0.85" textLength="5.8" lengthAdjust="spacingAndGlyphs" transform="rotate(-90 243.2 235.4)">0.05</text>
<line x1="240.0" y1="230.5" x2="262.0" y2="230.5" stroke="#ffffff" stroke-width="0.5"/>
<rect x="213.8" y="242.5" width="12.5" height="5.3" fill="#9a9a9a"/>
<text x="227.0" y="246.4" font-size="2.60" fill="#ffffff" opacity="0.85" textLength="6.0" lengthAdjust="spacingAndGlyphs">0.30</text>
<polyline points="226.3,246.0 240.0,245.0 257.0,240.0" stroke="#ffffff" stroke-width="0.5" fill="none"/>
<text x="214.7" y="257.3" font-size="2.60" fill="#ffffff" opacity="1.00" textLength="6.4" lengthAdjust="spacingAndGlyphs">0.20</text>
<polyline points="213.8,258.0 238.0,257.5 262.0,240.0" stroke="#ffffff" stroke-width="0.5" fill="none"/>
<text x="247.4" y="224.0" font-size="2.60" fill="#ffffff" opacity="0.68" textLength="6.0" lengthAdjust="spacingAndGlyphs" transform="rotate(-90 247.4 224.0)">0.15</text>
<text x="201.1" y="269.9" font-size="5.3" fill="#ffffff" text-anchor="start" textLength="23.4" lengthAdjust="spacingAndGlyphs">VER  DET.</text>
<line x1="200.0" y1="270.7" x2="246.6" y2="270.7" stroke="#ffffff" stroke-width="0.5"/>
<circle cx="236.8" cy="270.3" r="5.3" stroke="#ffffff" stroke-width="0.6" fill="none"/>
<text x="236.8" y="268.8" font-size="4.3" fill="#ffffff" text-anchor="middle">1</text>
<line x1="235.3" y1="272.8" x2="238.3" y2="272.8" stroke="#ffffff" stroke-width="0.6"/>
<text x="269.0" y="283.6" font-size="5.5" fill="#ffffff" text-anchor="start" textLength="15.9" lengthAdjust="spacingAndGlyphs">CORTE</text>
<text x="269.0" y="287.3" font-size="2.6" fill="#cccccc" text-anchor="start" textLength="15.0" lengthAdjust="spacingAndGlyphs">ESC. 1:50</text>
<line x1="284.9" y1="284.0" x2="299.4" y2="284.0" stroke="#ffffff" stroke-width="0.5"/>
<circle cx="304.3" cy="282.7" r="5.0" stroke="#ffffff" stroke-width="0.6" fill="none"/>
<line x1="299.3" y1="283.6" x2="309.3" y2="283.6" stroke="#ffffff" stroke-width="0.6"/>
<text x="304.3" y="282.3" font-size="3.2" fill="#ffffff" text-anchor="middle">A-A</text>
<line x1="303.0" y1="285.6" x2="305.6" y2="285.6" stroke="#ffffff" stroke-width="0.6"/>
<polygon points="504.8,32.6 523.3,32.6 523.3,41.5 513.7,41.5 513.7,128.3 504.8,128.3" fill="#d9d9d9"/>
<polygon points="505.2,131.3 513.5,131.3 513.5,244.8 506.0,261.1 505.2,261.1" fill="#d9d9d9"/>
<polygon points="562.0,32.6 581.2,32.6 581.2,128.3 572.4,128.3 572.4,41.5 562.0,41.5" fill="#d9d9d9"/>
<polygon points="572.4,131.3 580.8,131.3 580.8,261.1 579.8,261.1 572.4,244.8" fill="#d9d9d9"/>
<line x1="497.7" y1="128.3" x2="583.0" y2="128.3" stroke="#ffffff" stroke-width="0.8"/>
<line x1="497.7" y1="131.3" x2="583.0" y2="131.3" stroke="#ffffff" stroke-width="0.8"/>
<polyline points="524.0,128.3 526.0,126.0 528.0,134.0 530.0,131.3" stroke="#ffffff" stroke-width="0.5" fill="none"/>
<polyline points="560.0,128.3 562.0,126.0 564.0,134.0 566.0,131.3" stroke="#ffffff" stroke-width="0.5" fill="none"/>
<line x1="511.9" y1="38.0" x2="511.9" y2="111.5" stroke="#ffffff" stroke-width="0.5"/>
<line x1="574.0" y1="38.0" x2="574.0" y2="111.5" stroke="#ffffff" stroke-width="0.5"/>
<line x1="511.9" y1="111.5" x2="574.0" y2="111.5" stroke="#ffffff" stroke-width="0.5"/>
<line x1="503.2" y1="119.0" x2="582.0" y2="119.0" stroke="#ffffff" stroke-width="0.6"/>
<line x1="503.4" y1="33.0" x2="503.4" y2="119.0" stroke="#ffffff" stroke-width="0.5"/>
<line x1="581.9" y1="33.0" x2="581.9" y2="119.0" stroke="#ffffff" stroke-width="0.5"/>
<line x1="513.7" y1="41.5" x2="513.7" y2="111.0" stroke="#ffffff" stroke-width="0.4"/>
<line x1="523.3" y1="34.4" x2="562.0" y2="34.4" stroke="#ffffff" stroke-width="0.7"/>
<line x1="504.0" y1="32.6" x2="581.2" y2="32.6" stroke="#ffffff" stroke-width="0.5"/>
<text x="528.1" y="40.0" font-size="2.47" fill="#ffffff" opacity="1.00" textLength="6.0" lengthAdjust="spacingAndGlyphs" transform="rotate(-90 528.1 40.0)">1.50</text>
<rect x="537.0" y="33.0" width="3.0" height="3.5" fill="#aaa"/>
<text x="556.4" y="40.0" font-size="2.60" fill="#ffffff" opacity="1.00" textLength="6.0" lengthAdjust="spacingAndGlyphs" transform="rotate(-90 556.4 40.0)">0.60</text>
<line x1="527.0" y1="40.0" x2="527.0" y2="44.0" stroke="#ffffff" stroke-width="0.4"/>
<line x1="524.0" y1="43.5" x2="531.0" y2="43.5" stroke="#ffffff" stroke-width="0.4"/>
<line x1="555.5" y1="40.0" x2="555.5" y2="44.0" stroke="#ffffff" stroke-width="0.4"/>
<line x1="552.0" y1="43.5" x2="559.0" y2="43.5" stroke="#ffffff" stroke-width="0.4"/>
<line x1="504.0" y1="18.3" x2="581.4" y2="18.3" stroke="#bdbdbd" stroke-width="0.5"/>
<line x1="504.0" y1="16.5" x2="504.0" y2="32.0" stroke="#bdbdbd" stroke-width="0.45"/>
<line x1="512.6" y1="16.5" x2="512.6" y2="32.0" stroke="#bdbdbd" stroke-width="0.45"/>
<line x1="572.5" y1="16.5" x2="572.5" y2="32.0" stroke="#bdbdbd" stroke-width="0.45"/>
<line x1="581.4" y1="16.5" x2="581.4" y2="32.0" stroke="#bdbdbd" stroke-width="0.45"/>
<text x="506.0" y="17.4" font-size="2.60" fill="#ffffff" opacity="0.85" textLength="6.0" lengthAdjust="spacingAndGlyphs">0.10</text>
<text x="536.0" y="17.4" font-size="2.60" fill="#ffffff" opacity="0.85" textLength="12.0" lengthAdjust="spacingAndGlyphs">2.00 0.25</text>
<text x="573.8" y="17.4" font-size="2.60" fill="#ffffff" opacity="0.85" textLength="6.4" lengthAdjust="spacingAndGlyphs">0.25</text>
<line x1="518.0" y1="24.2" x2="568.0" y2="24.2" stroke="#bdbdbd" stroke-width="0.5"/>
<line x1="518.0" y1="22.5" x2="518.0" y2="30.0" stroke="#bdbdbd" stroke-width="0.45"/>
<line x1="542.4" y1="22.5" x2="542.4" y2="30.0" stroke="#bdbdbd" stroke-width="0.45"/>
<line x1="568.0" y1="22.5" x2="568.0" y2="30.0" stroke="#bdbdbd" stroke-width="0.45"/>
<text x="528.6" y="23.2" font-size="2.34" fill="#ffffff" opacity="0.85" textLength="5.8" lengthAdjust="spacingAndGlyphs">1.10</text>
<text x="553.6" y="23.2" font-size="2.34" fill="#ffffff" opacity="0.85" textLength="5.8" lengthAdjust="spacingAndGlyphs">0.05</text>
<text x="518.5" y="29.7" font-size="2.60" fill="#ffffff" opacity="0.85" textLength="6.4" lengthAdjust="spacingAndGlyphs">0.30</text>
<text x="561.0" y="29.7" font-size="2.60" fill="#ffffff" opacity="0.85" textLength="6.0" lengthAdjust="spacingAndGlyphs">0.20</text>
<text x="545.8" y="28.2" font-size="2.60" fill="#ffffff" opacity="0.85" textLength="6.4" lengthAdjust="spacingAndGlyphs">0.15</text>
<polyline points="548.0,28.5 546.0,29.0 546.0,33.0" stroke="#ffffff" stroke-width="0.5" fill="none"/>
<text x="476.0" y="31.7" font-size="2.60" fill="#ffffff" opacity="0.94" textLength="12.0" lengthAdjust="spacingAndGlyphs">1.50 0.60</text>
<polygon points="478.5,32.5 483.0,32.5 480.7,35.5" stroke="#ffffff" stroke-width="0.5" fill="none"/>
<line x1="476.0" y1="34.4" x2="504.8" y2="34.4" stroke="#ffffff" stroke-width="0.5"/>
<line x1="476.0" y1="37.0" x2="504.5" y2="37.0" stroke="#ffffff" stroke-width="0.6"/>
<line x1="477.0" y1="40.8" x2="480.0" y2="37.4" stroke="#b0b0b0" stroke-width="0.55"/>
<line x1="477.0" y1="37.4" x2="480.0" y2="40.8" stroke="#b0b0b0" stroke-width="0.55"/>
<line x1="480.0" y1="40.8" x2="483.0" y2="37.4" stroke="#b0b0b0" stroke-width="0.55"/>
<line x1="480.0" y1="37.4" x2="483.0" y2="40.8" stroke="#b0b0b0" stroke-width="0.55"/>
<line x1="483.0" y1="40.8" x2="486.0" y2="37.4" stroke="#b0b0b0" stroke-width="0.55"/>
<line x1="483.0" y1="37.4" x2="486.0" y2="40.8" stroke="#b0b0b0" stroke-width="0.55"/>
<line x1="486.0" y1="40.8" x2="489.0" y2="37.4" stroke="#b0b0b0" stroke-width="0.55"/>
<line x1="486.0" y1="37.4" x2="489.0" y2="40.8" stroke="#b0b0b0" stroke-width="0.55"/>
<line x1="489.0" y1="40.8" x2="492.0" y2="37.4" stroke="#b0b0b0" stroke-width="0.55"/>
<line x1="489.0" y1="37.4" x2="492.0" y2="40.8" stroke="#b0b0b0" stroke-width="0.55"/>
<line x1="492.0" y1="40.8" x2="495.0" y2="37.4" stroke="#b0b0b0" stroke-width="0.55"/>
<line x1="492.0" y1="37.4" x2="495.0" y2="40.8" stroke="#b0b0b0" stroke-width="0.55"/>
<line x1="495.0" y1="40.8" x2="498.0" y2="37.4" stroke="#b0b0b0" stroke-width="0.55"/>
<line x1="495.0" y1="37.4" x2="498.0" y2="40.8" stroke="#b0b0b0" stroke-width="0.55"/>
<line x1="498.0" y1="40.8" x2="501.0" y2="37.4" stroke="#b0b0b0" stroke-width="0.55"/>
<line x1="498.0" y1="37.4" x2="501.0" y2="40.8" stroke="#b0b0b0" stroke-width="0.55"/>
<line x1="501.0" y1="40.8" x2="504.0" y2="37.4" stroke="#b0b0b0" stroke-width="0.55"/>
<line x1="501.0" y1="37.4" x2="504.0" y2="40.8" stroke="#b0b0b0" stroke-width="0.55"/>
<text x="612.0" y="31.7" font-size="2.60" fill="#ffffff" opacity="0.94" textLength="12.0" lengthAdjust="spacingAndGlyphs">0.60 0.10</text>
<polygon points="614.0,32.5 618.5,32.5 616.3,35.5" stroke="#ffffff" stroke-width="0.5" fill="none"/>
<line x1="581.2" y1="34.4" x2="620.0" y2="34.4" stroke="#ffffff" stroke-width="0.5"/>
<line x1="585.0" y1="37.0" x2="614.0" y2="37.0" stroke="#ffffff" stroke-width="0.6"/>
<line x1="586.0" y1="40.8" x2="589.0" y2="37.4" stroke="#b0b0b0" stroke-width="0.55"/>
<line x1="586.0" y1="37.4" x2="589.0" y2="40.8" stroke="#b0b0b0" stroke-width="0.55"/>
<line x1="589.0" y1="40.8" x2="592.0" y2="37.4" stroke="#b0b0b0" stroke-width="0.55"/>
<line x1="589.0" y1="37.4" x2="592.0" y2="40.8" stroke="#b0b0b0" stroke-width="0.55"/>
<line x1="592.0" y1="40.8" x2="595.0" y2="37.4" stroke="#b0b0b0" stroke-width="0.55"/>
<line x1="592.0" y1="37.4" x2="595.0" y2="40.8" stroke="#b0b0b0" stroke-width="0.55"/>
<line x1="595.0" y1="40.8" x2="598.0" y2="37.4" stroke="#b0b0b0" stroke-width="0.55"/>
<line x1="595.0" y1="37.4" x2="598.0" y2="40.8" stroke="#b0b0b0" stroke-width="0.55"/>
<line x1="598.0" y1="40.8" x2="601.0" y2="37.4" stroke="#b0b0b0" stroke-width="0.55"/>
<line x1="598.0" y1="37.4" x2="601.0" y2="40.8" stroke="#b0b0b0" stroke-width="0.55"/>
<line x1="601.0" y1="40.8" x2="604.0" y2="37.4" stroke="#b0b0b0" stroke-width="0.55"/>
<line x1="601.0" y1="37.4" x2="604.0" y2="40.8" stroke="#b0b0b0" stroke-width="0.55"/>
<line x1="604.0" y1="40.8" x2="607.0" y2="37.4" stroke="#b0b0b0" stroke-width="0.55"/>
<line x1="604.0" y1="37.4" x2="607.0" y2="40.8" stroke="#b0b0b0" stroke-width="0.55"/>
<line x1="607.0" y1="40.8" x2="610.0" y2="37.4" stroke="#b0b0b0" stroke-width="0.55"/>
<line x1="607.0" y1="37.4" x2="610.0" y2="40.8" stroke="#b0b0b0" stroke-width="0.55"/>
<line x1="610.0" y1="40.8" x2="613.0" y2="37.4" stroke="#b0b0b0" stroke-width="0.55"/>
<line x1="610.0" y1="37.4" x2="613.0" y2="40.8" stroke="#b0b0b0" stroke-width="0.55"/>
<line x1="593.6" y1="32.0" x2="593.6" y2="262.0" stroke="#bdbdbd" stroke-width="0.5"/>
<text x="594.6" y="133.2" font-size="2.60" fill="#ffffff" opacity="0.85" textLength="6.4" lengthAdjust="spacingAndGlyphs" transform="rotate(-90 594.6 133.2)">0.10</text>
<text x="594.6" y="254.2" font-size="2.60" fill="#ffffff" opacity="0.85" textLength="6.4" lengthAdjust="spacingAndGlyphs" transform="rotate(-90 594.6 254.2)">2.00</text>
<line x1="528.6" y1="88.4" x2="557.5" y2="88.4" stroke="#bdbdbd" stroke-width="0.5"/>
<line x1="528.6" y1="86.5" x2="528.6" y2="121.0" stroke="#bdbdbd" stroke-width="0.45"/>
<line x1="542.4" y1="86.5" x2="542.4" y2="121.0" stroke="#bdbdbd" stroke-width="0.45"/>
<line x1="557.5" y1="86.5" x2="557.5" y2="121.0" stroke="#bdbdbd" stroke-width="0.45"/>
<text x="531.8" y="87.4" font-size="2.60" fill="#ffffff" opacity="0.85" textLength="6.4" lengthAdjust="spacingAndGlyphs">0.25</text>
<text x="546.8" y="87.4" font-size="2.60" fill="#ffffff" opacity="0.85" textLength="6.4" lengthAdjust="spacingAndGlyphs">1.10</text>
<line x1="517.0" y1="101.6" x2="563.4" y2="101.6" stroke="#ffffff" stroke-width="0.5"/>
<rect x="528.4" y="100.0" width="3.2" height="3.3" stroke="#ffffff" stroke-width="0.6" fill="none"/>
<rect x="540.8" y="100.0" width="3.2" height="3.3" stroke="#ffffff" stroke-width="0.6" fill="none"/>
<rect x="554.4" y="100.0" width="3.2" height="3.3" stroke="#ffffff" stroke-width="0.6" fill="none"/>
<text x="561.8" y="96.7" font-size="2.60" fill="#ffffff" opacity="0.94" textLength="6.4" lengthAdjust="spacingAndGlyphs">0.05</text>
<line x1="558.0" y1="101.0" x2="562.0" y2="97.0" stroke="#ffffff" stroke-width="0.5"/>
<text x="525.3" y="116.4" font-size="2.60" fill="#ffffff" opacity="0.85" textLength="6.4" lengthAdjust="spacingAndGlyphs">0.30</text>
<line x1="541.0" y1="105.0" x2="541.0" y2="120.0" stroke="#ffffff" stroke-width="0.5"/>
<line x1="537.5" y1="110.0" x2="544.5" y2="110.0" stroke="#ffffff" stroke-width="0.5"/>
<text x="539.0" y="117.4" font-size="2.60" fill="#ffffff" opacity="0.85" textLength="4.0" lengthAdjust="spacingAndGlyphs">0.20</text>
<line x1="529.0" y1="103.0" x2="529.0" y2="123.0" stroke="#ffffff" stroke-width="0.6"/>
<path d="M516.8,230 Q530,226.3 542,226.3 Q556,226.3 564.4,230 Z" fill="#dcdcdc"/>
<rect x="513.5" y="230.0" width="58.9" height="7.4" fill="#d9d9d9"/>
<line x1="572.0" y1="230.3" x2="600.0" y2="230.3" stroke="#bdbdbd" stroke-width="0.5"/>
<line x1="572.0" y1="237.4" x2="600.0" y2="237.4" stroke="#bdbdbd" stroke-width="0.5"/>
<line x1="513.5" y1="238.1" x2="572.4" y2="238.1" stroke="#ffffff" stroke-width="0.6"/>
<line x1="513.5" y1="246.8" x2="572.4" y2="246.8" stroke="#ffffff" stroke-width="0.5"/>
<line x1="518.0" y1="253.5" x2="560.0" y2="253.5" stroke="#bdbdbd" stroke-width="0.5"/>
<line x1="505.0" y1="261.1" x2="600.0" y2="261.1" stroke="#ffffff" stroke-width="0.6"/>
<polygon points="514.0,240.1 524.1,240.1 514.0,246.8" fill="#ffffff"/>
<line x1="536.0" y1="228.0" x2="536.0" y2="238.0" stroke="#ffffff" stroke-width="0.5"/>
<text x="537.4" y="236.0" font-size="2.60" fill="#ffffff" opacity="1.00" textLength="4.0" lengthAdjust="spacingAndGlyphs" transform="rotate(-90 537.4 236.0)">0.15</text>
<rect x="525.2" y="245.9" width="8.3" height="28.4" stroke="#ffffff" stroke-width="0.85" fill="none"/>
<polyline points="526.4,271.6 527.7,271.6 528.7,274.3" stroke="#ffffff" stroke-width="0.5" fill="none"/>
<rect x="538.2" y="245.9" width="8.5" height="28.4" stroke="#ffffff" stroke-width="0.85" fill="none"/>
<polyline points="539.4,271.6 540.7,271.6 541.7,274.3" stroke="#ffffff" stroke-width="0.5" fill="none"/>
<rect x="552.3" y="245.9" width="8.5" height="28.4" stroke="#ffffff" stroke-width="0.85" fill="none"/>
<polyline points="553.5,271.6 554.8,271.6 555.8,274.3" stroke="#ffffff" stroke-width="0.5" fill="none"/>
<line x1="542.4" y1="25.0" x2="542.4" y2="262.0" stroke="#ffffff" stroke-width="0.6"/>
<line x1="534.0" y1="268.5" x2="600.0" y2="268.5" stroke="#bdbdbd" stroke-width="0.5"/>
<text x="580.6" y="267.7" font-size="2.60" fill="#ffffff" opacity="0.85" textLength="36.4" lengthAdjust="spacingAndGlyphs">TO ARMADO VER DETALLE T</text>
<text x="580.6" y="270.9" font-size="2.60" fill="#ffffff" opacity="0.85" textLength="31.4" lengthAdjust="spacingAndGlyphs">DO VER DETALLE TUBER</text>
<text x="559.3" y="225.4" font-size="2.60" fill="#ffffff" opacity="0.85" textLength="6.4" lengthAdjust="spacingAndGlyphs">0.10</text>
<line x1="565.0" y1="227.7" x2="620.0" y2="227.7" stroke="#ffffff" stroke-width="0.5"/>
<text x="603.8" y="224.3" font-size="2.60" fill="#ffffff" opacity="1.00" textLength="6.4" lengthAdjust="spacingAndGlyphs">2.00</text>
<text x="606.0" y="226.9" font-size="2.60" fill="#ffffff" opacity="0.77" textLength="13.0" lengthAdjust="spacingAndGlyphs">0.25 1.10</text>
<polygon points="600.5,225.5 603.5,225.5 602.0,228.0" stroke="#ffffff" stroke-width="0.5" fill="none"/>
<text x="477.0" y="211.2" font-size="2.34" fill="#ffffff" opacity="0.94" textLength="17.0" lengthAdjust="spacingAndGlyphs">ONCRETO ARMA</text>
<text x="477.3" y="213.9" font-size="2.21" fill="#ffffff" opacity="0.77" textLength="12.3" lengthAdjust="spacingAndGlyphs">0.05 0.30</text>
<polyline points="495.0,212.0 510.0,212.0 536.0,226.0" stroke="#ffffff" stroke-width="0.5" fill="none"/>
<text x="478.0" y="240.2" font-size="2.34" fill="#ffffff" opacity="0.94" textLength="16.0" lengthAdjust="spacingAndGlyphs">VER DETALLE</text>
<text x="477.0" y="242.9" font-size="2.21" fill="#ffffff" opacity="0.77" textLength="15.0" lengthAdjust="spacingAndGlyphs">TALLE TUBER</text>
<polyline points="495.0,241.0 515.0,240.0" stroke="#ffffff" stroke-width="0.5" fill="none"/>
<text x="477.0" y="254.7" font-size="2.34" fill="#ffffff" opacity="0.94" textLength="11.0" lengthAdjust="spacingAndGlyphs">0.15 1.50</text>
<polyline points="488.0,254.0 503.0,254.0 515.0,244.0" stroke="#ffffff" stroke-width="0.5" fill="none"/>
<text x="523.0" y="283.7" font-size="5.5" fill="#ffffff" text-anchor="start" textLength="16.6" lengthAdjust="spacingAndGlyphs">CORTE</text>
<text x="523.0" y="287.3" font-size="2.6" fill="#cccccc" text-anchor="start" textLength="15.0" lengthAdjust="spacingAndGlyphs">ESC. 1:50</text>
<line x1="539.6" y1="283.7" x2="553.8" y2="283.7" stroke="#ffffff" stroke-width="0.5"/>
<circle cx="558.8" cy="283.2" r="5.0" stroke="#ffffff" stroke-width="0.6" fill="none"/>
<line x1="553.8" y1="283.7" x2="563.8" y2="283.7" stroke="#ffffff" stroke-width="0.6"/>
<text x="558.8" y="282.6" font-size="3.2" fill="#ffffff" text-anchor="middle">B-B</text>
<line x1="557.5" y1="286.0" x2="560.1" y2="286.0" stroke="#ffffff" stroke-width="0.6"/>
<polygon points="406.0,157.7 422.6,157.7 422.6,185.3 407.0,200.2 406.0,200.2" fill="#d9d9d9"/>
<line x1="407.0" y1="165.0" x2="421.0" y2="180.0" stroke="#000" stroke-width="0.9"/>
<line x1="421.0" y1="165.0" x2="407.0" y2="180.0" stroke="#000" stroke-width="0.9"/>
<line x1="408.0" y1="166.0" x2="420.0" y2="179.0" stroke="#ffffff" stroke-width="0.5"/>
<line x1="420.0" y1="166.0" x2="408.0" y2="179.0" stroke="#ffffff" stroke-width="0.5"/>
<line x1="406.0" y1="167.5" x2="424.0" y2="167.5" stroke="#ffffff" stroke-width="0.5"/>
<line x1="418.0" y1="149.0" x2="418.0" y2="157.0" stroke="#ffffff" stroke-width="0.5"/>
<polyline points="416.0,152.0 418.0,157.0 420.0,152.0" stroke="#ffffff" stroke-width="0.5" fill="none"/>
<text x="373.2" y="159.2" font-size="2.60" fill="#ffffff" opacity="0.94" textLength="22.6" lengthAdjust="spacingAndGlyphs">DE CONCRETO AR</text>
<polyline points="396.0,158.5 402.0,158.5 409.0,168.0" stroke="#ffffff" stroke-width="0.5" fill="none"/>
<text x="414.0" y="167.9" font-size="2.60" fill="#ffffff" opacity="0.85" textLength="5.0" lengthAdjust="spacingAndGlyphs">0.60</text>
<line x1="422.6" y1="185.3" x2="440.0" y2="185.3" stroke="#ffffff" stroke-width="0.5"/>
<line x1="422.6" y1="185.3" x2="437.0" y2="214.0" stroke="#ffffff" stroke-width="0.5"/>
<line x1="422.0" y1="185.3" x2="395.0" y2="213.0" stroke="#ffffff" stroke-width="0.5"/>
<line x1="395.0" y1="213.0" x2="410.0" y2="213.0" stroke="#ffffff" stroke-width="0.5"/>
<text x="398.3" y="212.2" font-size="2.60" fill="#ffffff" opacity="0.94" textLength="6.4" lengthAdjust="spacingAndGlyphs">0.10</text>
<line x1="404.0" y1="200.2" x2="437.0" y2="213.0" stroke="#ffffff" stroke-width="0.5"/>
<text x="433.8" y="214.9" font-size="2.60" fill="#ffffff" opacity="0.94" textLength="6.4" lengthAdjust="spacingAndGlyphs">2.00</text>
<line x1="394.0" y1="177.0" x2="394.0" y2="200.0" stroke="#bdbdbd" stroke-width="0.5"/>
<line x1="392.0" y1="177.0" x2="406.0" y2="177.0" stroke="#bdbdbd" stroke-width="0.5"/>
<line x1="392.0" y1="200.2" x2="410.0" y2="200.2" stroke="#bdbdbd" stroke-width="0.5"/>
<text x="393.2" y="193.2" font-size="2.60" fill="#ffffff" opacity="0.85" textLength="6.4" lengthAdjust="spacingAndGlyphs" transform="rotate(-90 393.2 193.2)">0.25</text>
<line x1="399.0" y1="181.0" x2="399.0" y2="200.0" stroke="#bdbdbd" stroke-width="0.5"/>
<text x="399.7" y="194.7" font-size="2.60" fill="#ffffff" opacity="0.68" textLength="6.4" lengthAdjust="spacingAndGlyphs" transform="rotate(-90 399.7 194.7)">1.10</text>
<line x1="438.0" y1="184.0" x2="438.0" y2="200.0" stroke="#bdbdbd" stroke-width="0.5"/>
<text x="440.4" y="197.0" font-size="2.60" fill="#ffffff" opacity="0.85" textLength="4.0" lengthAdjust="spacingAndGlyphs" transform="rotate(-90 440.4 197.0)">0.05</text>
<line x1="426.0" y1="184.0" x2="426.0" y2="176.0" stroke="#bdbdbd" stroke-width="0.5"/>
<text x="429.9" y="183.0" font-size="2.60" fill="#ffffff" opacity="0.85" textLength="5.0" lengthAdjust="spacingAndGlyphs" transform="rotate(-90 429.9 183.0)">0.30</text>
<text x="426.3" y="171.9" font-size="2.60" fill="#ffffff" opacity="0.85" textLength="6.4" lengthAdjust="spacingAndGlyphs">0.20</text>
<text x="391.0" y="236.0" font-size="5.2" fill="#ffffff" text-anchor="start" textLength="26.6" lengthAdjust="spacingAndGlyphs">DETALLE</text>
<text x="391.0" y="240.6" font-size="2.6" fill="#cccccc" text-anchor="start" textLength="15.0" lengthAdjust="spacingAndGlyphs">ESC. 1:10</text>
<line x1="391.0" y1="237.5" x2="429.0" y2="237.5" stroke="#ffffff" stroke-width="0.5"/>
<circle cx="435.8" cy="236.5" r="6.8" stroke="#ffffff" stroke-width="0.6" fill="none"/>
<line x1="429.0" y1="237.5" x2="442.6" y2="237.5" stroke="#ffffff" stroke-width="0.6"/>
<text x="435.8" y="235.5" font-size="5.5" fill="#ffffff" text-anchor="middle">1</text>
<line x1="434.3" y1="240.5" x2="437.3" y2="240.5" stroke="#ffffff" stroke-width="0.6"/>
<text x="73.2" y="215.2" font-size="3.0" fill="#dddddd" text-anchor="start" textLength="23.0" lengthAdjust="spacingAndGlyphs">FIERRO Ø5/8"</text>
<line x1="73.0" y1="216.3" x2="96.3" y2="216.3" stroke="#ffffff" stroke-width="0.5"/>
<polyline points="96.3,216.3 101.0,220.6" stroke="#ffffff" stroke-width="0.5" fill="none"/>
<line x1="91.0" y1="220.6" x2="132.0" y2="220.6" stroke="#ffffff" stroke-width="0.7"/>
<rect x="106.0" y="218.4" width="10.4" height="4.8" stroke="#ffffff" stroke-width="0.6" fill="none"/>
<rect x="106.4" y="218.8" width="9.6" height="4.0" fill="#000"/>
<line x1="122.4" y1="216.0" x2="122.4" y2="225.0" stroke="#ffffff" stroke-width="0.5"/>
<line x1="124.6" y1="216.0" x2="124.6" y2="225.0" stroke="#ffffff" stroke-width="0.5"/>
<line x1="106.0" y1="223.5" x2="106.0" y2="232.0" stroke="#bdbdbd" stroke-width="0.4"/>
<line x1="116.4" y1="223.5" x2="116.4" y2="232.0" stroke="#bdbdbd" stroke-width="0.4"/>
<line x1="104.5" y1="231.0" x2="118.0" y2="231.0" stroke="#bdbdbd" stroke-width="0.45"/>
<text x="108.0" y="228.0" font-size="2.60" fill="#ffffff" opacity="0.94" textLength="6.4" lengthAdjust="spacingAndGlyphs">0.15</text>
<rect x="87.4" y="239.6" width="49.1" height="7.1" fill="#bcbcbc"/>
<line x1="84.4" y1="243.5" x2="138.0" y2="243.5" stroke="#ffffff" stroke-width="0.6"/>
<line x1="88.0" y1="240.3" x2="136.0" y2="240.3" stroke="#ffffff" stroke-width="0.5"/>
<line x1="88.0" y1="246.0" x2="136.0" y2="246.0" stroke="#ffffff" stroke-width="0.5"/>
<line x1="97.0" y1="237.0" x2="97.0" y2="249.0" stroke="#444" stroke-width="0.7"/>
<line x1="126.1" y1="237.0" x2="126.1" y2="249.0" stroke="#444" stroke-width="0.7"/>
<polyline points="108.0,242.3 110.0,240.8 116.6,240.8 118.6,242.3" stroke="#333" stroke-width="0.9" fill="none"/>
<polyline points="87.4,239.6 86.0,241.5 88.0,243.5 86.0,245.5 87.4,246.7" stroke="#ffffff" stroke-width="0.5" fill="none"/>
<polyline points="136.5,239.6 138.0,241.5 136.0,243.5 138.0,245.5 136.5,246.7" stroke="#ffffff" stroke-width="0.5" fill="none"/>
<text x="78.6" y="259.9" font-size="6" fill="#ffffff" text-anchor="start" textLength="79.3" lengthAdjust="spacingAndGlyphs">DETALLE  DEL  IZAMIENTO</text>
<line x1="78.0" y1="260.6" x2="159.4" y2="260.6" stroke="#ffffff" stroke-width="0.5"/>
<text x="79.7" y="265.2" font-size="3" fill="#cccccc" text-anchor="start" textLength="18.0" lengthAdjust="spacingAndGlyphs">ESC. 1:10</text>
<rect x="143.8" y="307.1" width="77.9" height="8.1" fill="#d9d9d9"/>
<rect x="143.8" y="378.0" width="77.9" height="8.8" fill="#d9d9d9"/>
<rect x="212.9" y="307.1" width="8.8" height="79.7" fill="#d9d9d9"/>
<circle cx="121.1" cy="346.6" r="32.9" stroke="#d2d2d2" stroke-width="7.9" fill="none"/>
<line x1="151.3" y1="307.1" x2="151.3" y2="315.2" stroke="#ffffff" stroke-width="0.5"/>
<line x1="151.3" y1="378.0" x2="151.3" y2="386.8" stroke="#ffffff" stroke-width="0.5"/>
<line x1="151.3" y1="315.2" x2="212.9" y2="315.2" stroke="#ffffff" stroke-width="0.5"/>
<line x1="151.3" y1="378.0" x2="212.9" y2="378.0" stroke="#ffffff" stroke-width="0.5"/>
<line x1="212.9" y1="315.2" x2="212.9" y2="378.0" stroke="#ffffff" stroke-width="0.5"/>
<line x1="191.5" y1="315.2" x2="191.5" y2="378.0" stroke="#ffffff" stroke-width="0.5"/>
<line x1="197.3" y1="295.0" x2="197.3" y2="387.0" stroke="#ffffff" stroke-width="0.5" stroke-dasharray="3,1.5"/>
<line x1="158.9" y1="340.3" x2="212.9" y2="315.2" stroke="#ffffff" stroke-width="0.6"/>
<line x1="158.9" y1="346.0" x2="212.9" y2="378.0" stroke="#ffffff" stroke-width="0.6"/>
<line x1="137.0" y1="332.8" x2="196.5" y2="332.8" stroke="#ffffff" stroke-width="0.6"/>
<rect x="168.0" y="330.3" width="3.0" height="5.0" fill="#888"/>
<line x1="137.0" y1="346.6" x2="196.5" y2="346.6" stroke="#ffffff" stroke-width="0.6"/>
<rect x="168.0" y="344.1" width="3.0" height="5.0" fill="#888"/>
<line x1="137.0" y1="360.4" x2="196.5" y2="360.4" stroke="#ffffff" stroke-width="0.6"/>
<rect x="168.0" y="357.9" width="3.0" height="5.0" fill="#888"/>
<rect x="193.5" y="325.0" width="8.0" height="3.0" fill="#777"/>
<rect x="193.5" y="338.8" width="8.0" height="3.0" fill="#777"/>
<rect x="193.5" y="351.9" width="8.0" height="3.0" fill="#777"/>
<rect x="193.5" y="364.5" width="8.0" height="3.0" fill="#777"/>
<rect x="180.5" y="337.5" width="2.0" height="5.0" fill="#888"/>
<rect x="180.5" y="350.4" width="2.0" height="5.0" fill="#888"/>
<line x1="165.0" y1="322.0" x2="180.0" y2="318.0" stroke="#ffffff" stroke-width="0.6"/>
<text x="173.8" y="320.4" font-size="2.60" fill="#ffffff" opacity="0.68" textLength="6.4" lengthAdjust="spacingAndGlyphs">1.50</text>
<line x1="163.0" y1="367.0" x2="178.0" y2="375.0" stroke="#ffffff" stroke-width="0.6"/>
<text x="164.8" y="371.9" font-size="2.60" fill="#ffffff" opacity="0.68" textLength="6.4" lengthAdjust="spacingAndGlyphs">0.60</text>
<line x1="117.7" y1="317.9" x2="117.7" y2="376.4" stroke="#ffffff" stroke-width="0.7"/>
<line x1="113.7" y1="318.5" x2="117.7" y2="318.5" stroke="#ffffff" stroke-width="0.6"/>
<line x1="113.7" y1="320.9" x2="117.7" y2="320.9" stroke="#ffffff" stroke-width="0.6"/>
<line x1="113.7" y1="323.4" x2="117.7" y2="323.4" stroke="#ffffff" stroke-width="0.6"/>
<line x1="113.7" y1="325.8" x2="117.7" y2="325.8" stroke="#ffffff" stroke-width="0.6"/>
<line x1="113.7" y1="328.3" x2="117.7" y2="328.3" stroke="#ffffff" stroke-width="0.6"/>
<line x1="113.7" y1="330.7" x2="117.7" y2="330.7" stroke="#ffffff" stroke-width="0.6"/>
<line x1="113.7" y1="333.2" x2="117.7" y2="333.2" stroke="#ffffff" stroke-width="0.6"/>
<line x1="113.7" y1="335.6" x2="117.7" y2="335.6" stroke="#ffffff" stroke-width="0.6"/>
<line x1="113.7" y1="338.1" x2="117.7" y2="338.1" stroke="#ffffff" stroke-width="0.6"/>
<line x1="113.7" y1="340.5" x2="117.7" y2="340.5" stroke="#ffffff" stroke-width="0.6"/>
<line x1="113.7" y1="343.0" x2="117.7" y2="343.0" stroke="#ffffff" stroke-width="0.6"/>
<line x1="113.7" y1="345.4" x2="117.7" y2="345.4" stroke="#ffffff" stroke-width="0.6"/>
<line x1="113.7" y1="347.9" x2="117.7" y2="347.9" stroke="#ffffff" stroke-width="0.6"/>
<line x1="113.7" y1="350.3" x2="117.7" y2="350.3" stroke="#ffffff" stroke-width="0.6"/>
<line x1="113.7" y1="352.8" x2="117.7" y2="352.8" stroke="#ffffff" stroke-width="0.6"/>
<line x1="113.7" y1="355.2" x2="117.7" y2="355.2" stroke="#ffffff" stroke-width="0.6"/>
<line x1="113.7" y1="357.7" x2="117.7" y2="357.7" stroke="#ffffff" stroke-width="0.6"/>
<line x1="113.7" y1="360.1" x2="117.7" y2="360.1" stroke="#ffffff" stroke-width="0.6"/>
<line x1="113.7" y1="362.6" x2="117.7" y2="362.6" stroke="#ffffff" stroke-width="0.6"/>
<line x1="113.7" y1="365.0" x2="117.7" y2="365.0" stroke="#ffffff" stroke-width="0.6"/>
<line x1="113.7" y1="367.5" x2="117.7" y2="367.5" stroke="#ffffff" stroke-width="0.6"/>
<line x1="113.7" y1="369.9" x2="117.7" y2="369.9" stroke="#ffffff" stroke-width="0.6"/>
<line x1="113.7" y1="372.4" x2="117.7" y2="372.4" stroke="#ffffff" stroke-width="0.6"/>
<line x1="113.7" y1="374.8" x2="117.7" y2="374.8" stroke="#ffffff" stroke-width="0.6"/>
<polyline points="96.0,317.9 113.7,317.9" stroke="#ffffff" stroke-width="0.5" fill="none"/>
<polyline points="113.7,329.8 106.8,329.8 106.8,339.7 113.7,339.7" stroke="#ffffff" stroke-width="0.5" fill="none"/>
<polyline points="113.7,353.6 106.8,353.6 106.8,363.5 113.7,363.5" stroke="#ffffff" stroke-width="0.5" fill="none"/>
<line x1="98.0" y1="376.4" x2="117.7" y2="376.4" stroke="#ffffff" stroke-width="0.5"/>
<line x1="92.0" y1="359.5" x2="113.0" y2="359.5" stroke="#ffffff" stroke-width="0.5"/>
<text x="99.0" y="358.5" font-size="1.95" fill="#ffffff" opacity="0.85" textLength="9.0" lengthAdjust="spacingAndGlyphs">0.10 2.00</text>
<line x1="92.5" y1="355.0" x2="92.5" y2="363.0" stroke="#ffffff" stroke-width="0.5"/>
<line x1="137.5" y1="320.8" x2="134.1" y2="320.8" stroke="#ffffff" stroke-width="0.85"/>
<line x1="142.5" y1="323.2" x2="138.1" y2="323.2" stroke="#ffffff" stroke-width="0.85"/>
<line x1="137.5" y1="325.6" x2="141.0" y2="325.6" stroke="#ffffff" stroke-width="0.85"/>
<line x1="142.5" y1="328.0" x2="143.2" y2="328.0" stroke="#ffffff" stroke-width="0.85"/>
<line x1="137.5" y1="330.4" x2="145.0" y2="330.4" stroke="#ffffff" stroke-width="0.85"/>
<line x1="142.5" y1="332.8" x2="146.5" y2="332.8" stroke="#ffffff" stroke-width="0.85"/>
<line x1="137.5" y1="335.2" x2="147.7" y2="335.2" stroke="#ffffff" stroke-width="0.85"/>
<line x1="142.5" y1="337.6" x2="148.6" y2="337.6" stroke="#ffffff" stroke-width="0.85"/>
<line x1="137.5" y1="340.0" x2="149.2" y2="340.0" stroke="#ffffff" stroke-width="0.85"/>
<line x1="142.5" y1="342.4" x2="149.7" y2="342.4" stroke="#ffffff" stroke-width="0.85"/>
<line x1="137.5" y1="344.8" x2="149.9" y2="344.8" stroke="#ffffff" stroke-width="0.85"/>
<line x1="142.5" y1="347.2" x2="150.0" y2="347.2" stroke="#ffffff" stroke-width="0.85"/>
<line x1="137.5" y1="349.6" x2="149.8" y2="349.6" stroke="#ffffff" stroke-width="0.85"/>
<line x1="142.5" y1="352.0" x2="149.5" y2="352.0" stroke="#ffffff" stroke-width="0.85"/>
<line x1="137.5" y1="354.4" x2="148.9" y2="354.4" stroke="#ffffff" stroke-width="0.85"/>
<line x1="142.5" y1="356.8" x2="148.1" y2="356.8" stroke="#ffffff" stroke-width="0.85"/>
<line x1="137.5" y1="359.2" x2="147.1" y2="359.2" stroke="#ffffff" stroke-width="0.85"/>
<line x1="142.5" y1="361.6" x2="145.8" y2="361.6" stroke="#ffffff" stroke-width="0.85"/>
<line x1="137.5" y1="364.0" x2="144.2" y2="364.0" stroke="#ffffff" stroke-width="0.85"/>
<line x1="142.5" y1="366.4" x2="142.2" y2="366.4" stroke="#ffffff" stroke-width="0.85"/>
<line x1="137.5" y1="368.8" x2="139.6" y2="368.8" stroke="#ffffff" stroke-width="0.85"/>
<line x1="142.5" y1="371.2" x2="136.3" y2="371.2" stroke="#ffffff" stroke-width="0.85"/>
<line x1="137.5" y1="373.6" x2="131.4" y2="373.6" stroke="#ffffff" stroke-width="0.85"/>
<line x1="137.5" y1="333.7" x2="161.0" y2="333.7" stroke="#ffffff" stroke-width="0.9"/>
<line x1="137.5" y1="341.7" x2="161.0" y2="341.7" stroke="#ffffff" stroke-width="0.9"/>
<line x1="137.5" y1="359.5" x2="161.0" y2="359.5" stroke="#ffffff" stroke-width="0.9"/>
<line x1="121.1" y1="290.0" x2="121.1" y2="396.0" stroke="#ffffff" stroke-width="0.8"/>
<line x1="56.8" y1="346.6" x2="164.0" y2="346.6" stroke="#ffffff" stroke-width="0.7"/>
<line x1="143.8" y1="291.3" x2="221.7" y2="291.3" stroke="#bdbdbd" stroke-width="0.5"/>
<line x1="143.8" y1="300.1" x2="221.7" y2="300.1" stroke="#bdbdbd" stroke-width="0.5"/>
<line x1="143.8" y1="289.0" x2="143.8" y2="307.0" stroke="#bdbdbd" stroke-width="0.45"/>
<line x1="151.3" y1="289.0" x2="151.3" y2="307.0" stroke="#bdbdbd" stroke-width="0.45"/>
<line x1="212.9" y1="289.0" x2="212.9" y2="307.0" stroke="#bdbdbd" stroke-width="0.45"/>
<line x1="221.7" y1="289.0" x2="221.7" y2="307.0" stroke="#bdbdbd" stroke-width="0.45"/>
<text x="176.0" y="290.7" font-size="2.34" fill="#ffffff" opacity="0.85" textLength="10.0" lengthAdjust="spacingAndGlyphs">2.00 0.25</text>
<text x="145.2" y="299.5" font-size="2.08" fill="#ffffff" opacity="0.85" textLength="5.2" lengthAdjust="spacingAndGlyphs">0.25</text>
<text x="176.0" y="299.5" font-size="2.08" fill="#ffffff" opacity="0.85" textLength="10.0" lengthAdjust="spacingAndGlyphs">1.10 0.05</text>
<text x="214.4" y="299.5" font-size="2.08" fill="#ffffff" opacity="0.85" textLength="5.2" lengthAdjust="spacingAndGlyphs">0.05</text>
<line x1="226.7" y1="307.1" x2="226.7" y2="386.8" stroke="#bdbdbd" stroke-width="0.5"/>
<line x1="234.2" y1="307.1" x2="234.2" y2="386.8" stroke="#bdbdbd" stroke-width="0.5"/>
<line x1="221.7" y1="307.1" x2="236.0" y2="307.1" stroke="#bdbdbd" stroke-width="0.45"/>
<line x1="221.7" y1="315.2" x2="236.0" y2="315.2" stroke="#bdbdbd" stroke-width="0.45"/>
<line x1="221.7" y1="378.0" x2="236.0" y2="378.0" stroke="#bdbdbd" stroke-width="0.45"/>
<line x1="221.7" y1="386.8" x2="236.0" y2="386.8" stroke="#bdbdbd" stroke-width="0.45"/>
<text x="227.6" y="350.2" font-size="2.60" fill="#ffffff" opacity="0.85" textLength="6.4" lengthAdjust="spacingAndGlyphs" transform="rotate(-90 227.6 350.2)">0.30</text>
<text x="227.6" y="313.0" font-size="2.60" fill="#ffffff" opacity="0.85" textLength="3.0" lengthAdjust="spacingAndGlyphs" transform="rotate(-90 227.6 313.0)">0.20</text>
<text x="227.6" y="384.0" font-size="2.60" fill="#ffffff" opacity="0.85" textLength="4.0" lengthAdjust="spacingAndGlyphs" transform="rotate(-90 227.6 384.0)">0.15</text>
<text x="235.1" y="350.2" font-size="2.60" fill="#ffffff" opacity="0.85" textLength="6.4" lengthAdjust="spacingAndGlyphs" transform="rotate(-90 235.1 350.2)">1.50</text>
<line x1="121.0" y1="393.2" x2="221.7" y2="393.2" stroke="#bdbdbd" stroke-width="0.5"/>
<line x1="121.0" y1="399.0" x2="221.7" y2="399.0" stroke="#bdbdbd" stroke-width="0.5"/>
<line x1="121.0" y1="387.0" x2="121.0" y2="401.0" stroke="#bdbdbd" stroke-width="0.45"/>
<line x1="143.8" y1="387.0" x2="143.8" y2="401.0" stroke="#bdbdbd" stroke-width="0.45"/>
<line x1="151.3" y1="387.0" x2="151.3" y2="401.0" stroke="#bdbdbd" stroke-width="0.45"/>
<line x1="191.5" y1="387.0" x2="191.5" y2="401.0" stroke="#bdbdbd" stroke-width="0.45"/>
<line x1="212.9" y1="387.0" x2="212.9" y2="401.0" stroke="#bdbdbd" stroke-width="0.45"/>
<line x1="221.7" y1="387.0" x2="221.7" y2="401.0" stroke="#bdbdbd" stroke-width="0.45"/>
<text x="158.0" y="392.7" font-size="2.34" fill="#ffffff" opacity="0.85" textLength="10.0" lengthAdjust="spacingAndGlyphs">0.60 0.10</text>
<text x="196.0" y="392.7" font-size="2.34" fill="#ffffff" opacity="0.85" textLength="10.0" lengthAdjust="spacingAndGlyphs">0.10 2.00</text>
<text x="176.0" y="398.5" font-size="2.08" fill="#ffffff" opacity="0.85" textLength="10.0" lengthAdjust="spacingAndGlyphs">2.00 0.25</text>
<line x1="66.2" y1="309.5" x2="66.2" y2="384.0" stroke="#bdbdbd" stroke-width="0.5"/>
<line x1="76.9" y1="309.5" x2="76.9" y2="384.0" stroke="#bdbdbd" stroke-width="0.5"/>
<line x1="64.0" y1="309.5" x2="121.0" y2="309.5" stroke="#bdbdbd" stroke-width="0.45"/>
<line x1="64.0" y1="317.9" x2="121.0" y2="317.9" stroke="#bdbdbd" stroke-width="0.45"/>
<line x1="64.0" y1="376.4" x2="121.0" y2="376.4" stroke="#bdbdbd" stroke-width="0.45"/>
<line x1="64.0" y1="384.0" x2="121.0" y2="384.0" stroke="#bdbdbd" stroke-width="0.45"/>
<text x="77.8" y="349.7" font-size="2.60" fill="#ffffff" opacity="0.85" textLength="6.4" lengthAdjust="spacingAndGlyphs" transform="rotate(-90 77.8 349.7)">0.25</text>
<text x="67.1" y="349.7" font-size="2.60" fill="#ffffff" opacity="0.85" textLength="6.4" lengthAdjust="spacingAndGlyphs" transform="rotate(-90 67.1 349.7)">1.10</text>
<text x="77.8" y="315.0" font-size="2.60" fill="#ffffff" opacity="0.85" textLength="4.0" lengthAdjust="spacingAndGlyphs" transform="rotate(-90 77.8 315.0)">0.05</text>
<text x="77.8" y="382.0" font-size="2.60" fill="#ffffff" opacity="0.85" textLength="4.0" lengthAdjust="spacingAndGlyphs" transform="rotate(-90 77.8 382.0)">0.30</text>
<circle cx="47.0" cy="359.8" r="5.8" stroke="#ffffff" stroke-width="0.6" fill="none"/>
<line x1="41.2" y1="359.8" x2="52.8" y2="359.8" stroke="#ffffff" stroke-width="0.6"/>
<text x="47.0" y="358.6" font-size="4.5" fill="#ffffff" text-anchor="middle">A</text>
<line x1="45.5" y1="362.6" x2="48.5" y2="362.6" stroke="#ffffff" stroke-width="0.6"/>
<line x1="47.0" y1="354.0" x2="47.0" y2="344.0" stroke="#ffffff" stroke-width="0.6"/>
<polyline points="45.0,346.0 47.0,343.5 49.0,346.0" stroke="#ffffff" stroke-width="0.6" fill="none"/>
<line x1="44.0" y1="350.0" x2="50.0" y2="350.0" stroke="#ffffff" stroke-width="0.6"/>
<line x1="50.0" y1="349.8" x2="57.0" y2="349.8" stroke="#ffffff" stroke-width="0.6"/>
<circle cx="111.0" cy="295.5" r="5.8" stroke="#ffffff" stroke-width="0.6" fill="none"/>
<line x1="105.2" y1="295.5" x2="116.8" y2="295.5" stroke="#ffffff" stroke-width="0.6"/>
<text x="111.0" y="294.3" font-size="4.5" fill="#ffffff" text-anchor="middle">A</text>
<line x1="109.5" y1="298.3" x2="112.5" y2="298.3" stroke="#ffffff" stroke-width="0.6"/>
<line x1="116.8" y1="295.5" x2="126.8" y2="295.5" stroke="#ffffff" stroke-width="0.6"/>
<polyline points="124.8,293.5 127.3,295.5 124.8,297.5" stroke="#ffffff" stroke-width="0.6" fill="none"/>
<line x1="120.8" y1="292.5" x2="120.8" y2="298.5" stroke="#ffffff" stroke-width="0.6"/>
<circle cx="111.0" cy="405.3" r="5.8" stroke="#ffffff" stroke-width="0.6" fill="none"/>
<line x1="105.2" y1="405.3" x2="116.8" y2="405.3" stroke="#ffffff" stroke-width="0.6"/>
<text x="111.0" y="404.1" font-size="4.5" fill="#ffffff" text-anchor="middle">A</text>
<line x1="109.5" y1="408.1" x2="112.5" y2="408.1" stroke="#ffffff" stroke-width="0.6"/>
<line x1="116.8" y1="405.3" x2="126.8" y2="405.3" stroke="#ffffff" stroke-width="0.6"/>
<polyline points="124.8,403.3 127.3,405.3 124.8,407.3" stroke="#ffffff" stroke-width="0.6" fill="none"/>
<line x1="120.8" y1="402.3" x2="120.8" y2="408.3" stroke="#ffffff" stroke-width="0.6"/>
<circle cx="248.2" cy="360.1" r="5.8" stroke="#ffffff" stroke-width="0.6" fill="none"/>
<line x1="242.4" y1="360.1" x2="254.0" y2="360.1" stroke="#ffffff" stroke-width="0.6"/>
<text x="248.2" y="358.9" font-size="4.5" fill="#ffffff" text-anchor="middle">A</text>
<line x1="246.7" y1="362.9" x2="249.7" y2="362.9" stroke="#ffffff" stroke-width="0.6"/>
<line x1="248.2" y1="354.3" x2="248.2" y2="344.3" stroke="#ffffff" stroke-width="0.6"/>
<polyline points="246.2,346.3 248.2,343.8 250.2,346.3" stroke="#ffffff" stroke-width="0.6" fill="none"/>
<line x1="245.2" y1="350.3" x2="251.2" y2="350.3" stroke="#ffffff" stroke-width="0.6"/>
<line x1="236.0" y1="350.4" x2="255.0" y2="350.4" stroke="#ffffff" stroke-width="0.6"/>
<text x="108.9" y="421.1" font-size="4.8" fill="#ffffff" text-anchor="start" textLength="73.8" lengthAdjust="spacingAndGlyphs">PLANTA  EN  COTA  SUPERIOR</text>
<line x1="107.5" y1="422.6" x2="186.4" y2="422.6" stroke="#ffffff" stroke-width="0.5"/>
<text x="108.0" y="426.0" font-size="2.6" fill="#cccccc" text-anchor="start" textLength="14.4" lengthAdjust="spacingAndGlyphs">ESC. 1:20</text>
<polygon points="590.0,317.0 593.0,312.9 603.7,312.9 603.7,320.9 597.5,320.9 597.5,318.8 592.0,318.8 592.0,320.9 588.5,320.9 588.5,317.0" fill="#d6d6d6"/>
<polygon points="596.1,324.0 603.7,324.0 603.7,328.5 601.0,328.5 600.0,331.0 599.0,328.5 596.1,328.5" fill="#d6d6d6"/>
<rect x="593.0" y="306.2" width="10.3" height="2.2" fill="#cfcfcf"/>
<polyline points="593.5,307.0 592.5,309.0 592.8,312.0" stroke="#cfcfcf" stroke-width="1.2" fill="none"/>
<line x1="588.1" y1="300.0" x2="588.1" y2="325.0" stroke="#ffffff" stroke-width="0.5"/>
<line x1="603.7" y1="300.0" x2="603.7" y2="313.0" stroke="#bdbdbd" stroke-width="0.45"/>
<line x1="589.0" y1="302.2" x2="606.0" y2="302.2" stroke="#bdbdbd" stroke-width="0.45"/>
<text x="594.9" y="301.5" font-size="2.08" fill="#ffffff" opacity="0.85" textLength="5.2" lengthAdjust="spacingAndGlyphs">0.20</text>
<line x1="586.0" y1="323.6" x2="606.0" y2="323.6" stroke="#ffffff" stroke-width="0.5"/>
<line x1="563.5" y1="313.3" x2="577.0" y2="313.3" stroke="#ffffff" stroke-width="0.5"/>
<line x1="563.5" y1="319.2" x2="577.0" y2="319.2" stroke="#ffffff" stroke-width="0.5"/>
<line x1="578.5" y1="313.3" x2="588.5" y2="313.3" stroke="#ffffff" stroke-width="0.5"/>
<line x1="578.5" y1="316.2" x2="588.5" y2="316.2" stroke="#ffffff" stroke-width="0.5"/>
<line x1="578.5" y1="319.2" x2="588.5" y2="319.2" stroke="#ffffff" stroke-width="0.5"/>
<line x1="578.5" y1="312.0" x2="578.5" y2="321.0" stroke="#ffffff" stroke-width="0.7"/>
<line x1="565.3" y1="311.5" x2="565.3" y2="321.0" stroke="#ffffff" stroke-width="0.5"/>
<rect x="560.4" y="313.0" width="2.2" height="6.5" fill="#999"/>
<text x="571.0" y="319.0" font-size="2.60" fill="#ffffff" opacity="0.85" textLength="6.4" lengthAdjust="spacingAndGlyphs" transform="rotate(-90 571.0 319.0)">0.15</text>
<text x="580.0" y="300.9" font-size="2.60" fill="#ffffff" opacity="1.00" textLength="6.0" lengthAdjust="spacingAndGlyphs">1.50</text>
<polyline points="604.0,310.0 605.5,310.5" stroke="#ffffff" stroke-width="0.5" fill="none"/>
<text x="564.0" y="345.3" font-size="5.3" fill="#ffffff" text-anchor="start" textLength="17.0" lengthAdjust="spacingAndGlyphs">CORTE</text>
<text x="564.0" y="348.6" font-size="2.5" fill="#cccccc" text-anchor="start" textLength="15.0" lengthAdjust="spacingAndGlyphs">ESC. 1:10</text>
<line x1="581.0" y1="345.3" x2="595.0" y2="345.3" stroke="#ffffff" stroke-width="0.5"/>
<circle cx="600.2" cy="344.3" r="5.5" stroke="#ffffff" stroke-width="0.7" fill="none"/>
<line x1="594.7" y1="345.3" x2="605.7" y2="345.3" stroke="#ffffff" stroke-width="0.6"/>
<text x="600.2" y="343.5" font-size="3.4" fill="#ffffff" text-anchor="middle">2-2</text>
<line x1="598.9" y1="347.8" x2="601.5" y2="347.8" stroke="#ffffff" stroke-width="0.6"/>
<circle cx="351.5" cy="346.3" r="36.0" stroke="#d0d0d0" stroke-width="0.8" fill="none"/>
<circle cx="351.5" cy="346.3" r="29.0" stroke="#c0c0c0" stroke-width="0.7" fill="none"/>
<line x1="285.0" y1="308.3" x2="460.0" y2="308.3" stroke="#bdbdbd" stroke-width="0.45"/>
<line x1="305.0" y1="331.0" x2="342.0" y2="331.0" stroke="#bdbdbd" stroke-width="0.45"/>
<rect x="320.2" y="331.3" width="21.9" height="31.4" stroke="#ffffff" stroke-width="0.8" fill="none"/>
<line x1="320.3" y1="331.0" x2="320.3" y2="362.7" stroke="#ffffff" stroke-width="1.4"/>
<line x1="322.0" y1="333.2" x2="340.0" y2="333.2" stroke="#ffffff" stroke-width="0.5"/>
<line x1="322.0" y1="360.8" x2="340.0" y2="360.8" stroke="#ffffff" stroke-width="0.5"/>
<line x1="339.0" y1="333.2" x2="339.0" y2="360.8" stroke="#ffffff" stroke-width="0.5"/>
<line x1="324.5" y1="333.2" x2="324.5" y2="360.8" stroke="#ffffff" stroke-width="0.4"/>
<rect x="329.0" y="338.5" width="4.0" height="3.3" fill="#ffffff" opacity="0.85"/>
<rect x="329.0" y="352.3" width="4.0" height="3.3" fill="#ffffff" opacity="0.85"/>
<line x1="323.4" y1="346.3" x2="339.3" y2="346.3" stroke="#ffffff" stroke-width="0.5"/>
<line x1="331.0" y1="333.5" x2="331.0" y2="337.0" stroke="#ffffff" stroke-width="0.4"/>
<line x1="331.0" y1="357.0" x2="331.0" y2="360.2" stroke="#ffffff" stroke-width="0.4"/>
<rect x="335.5" y="337.0" width="2.0" height="12.0" fill="#999"/>
<rect x="347.1" y="323.2" width="20.7" height="16.3" rx="1.5" stroke="#fff" stroke-width="0.8" fill="none"/>
<rect x="347.1" y="353.9" width="20.7" height="16.3" rx="1.5" stroke="#fff" stroke-width="0.8" fill="none"/>
<line x1="342.1" y1="315.0" x2="342.1" y2="375.0" stroke="#ffffff" stroke-width="0.6"/>
<line x1="351.5" y1="315.0" x2="351.5" y2="375.0" stroke="#ffffff" stroke-width="0.6"/>
<line x1="357.8" y1="323.0" x2="357.8" y2="370.0" stroke="#ffffff" stroke-width="0.6"/>
<line x1="363.4" y1="323.0" x2="363.4" y2="370.0" stroke="#ffffff" stroke-width="0.6"/>
<line x1="347.0" y1="327.5" x2="368.0" y2="327.5" stroke="#ffffff" stroke-width="0.6"/>
<line x1="325.0" y1="339.5" x2="368.0" y2="339.5" stroke="#ffffff" stroke-width="0.6"/>
<line x1="340.0" y1="351.4" x2="368.0" y2="351.4" stroke="#ffffff" stroke-width="0.6"/>
<line x1="347.0" y1="366.4" x2="368.0" y2="366.4" stroke="#ffffff" stroke-width="0.6"/>
<rect x="349.8" y="329.8" width="4.8" height="3.0" fill="#ffffff" opacity="0.9"/>
<rect x="359.8" y="329.8" width="4.8" height="3.0" fill="#ffffff" opacity="0.9"/>
<rect x="349.8" y="360.9" width="4.8" height="3.0" fill="#ffffff" opacity="0.9"/>
<rect x="359.8" y="360.9" width="4.8" height="3.0" fill="#ffffff" opacity="0.9"/>
<rect x="343.5" y="342.0" width="1.8" height="8.0" fill="#999"/>
<rect x="364.5" y="340.0" width="2.0" height="10.0" fill="#888"/>
<line x1="342.0" y1="318.0" x2="344.0" y2="335.0" stroke="#ffffff" stroke-width="0.4"/>
<line x1="370.0" y1="328.0" x2="378.0" y2="318.0" stroke="#ffffff" stroke-width="0.5"/>
<text x="345.3" y="372.4" font-size="2.60" fill="#ffffff" opacity="0.85" textLength="6.4" lengthAdjust="spacingAndGlyphs">0.60</text>
<text x="357.3" y="372.4" font-size="2.60" fill="#ffffff" opacity="0.85" textLength="6.4" lengthAdjust="spacingAndGlyphs">0.10</text>
<text x="318.3" y="372.4" font-size="2.60" fill="#ffffff" opacity="0.85" textLength="6.4" lengthAdjust="spacingAndGlyphs">2.00</text>
<text x="333.3" y="372.4" font-size="2.60" fill="#ffffff" opacity="0.85" textLength="6.4" lengthAdjust="spacingAndGlyphs">0.25</text>
<line x1="279.4" y1="346.3" x2="378.0" y2="346.3" stroke="#ffffff" stroke-width="1.0"/>
<line x1="349.5" y1="281.0" x2="349.5" y2="300.0" stroke="#ffffff" stroke-width="0.5"/>
<rect x="377.9" y="311.7" width="71.3" height="60.3" stroke="#ffffff" stroke-width="0.9" fill="none"/>
<rect x="393.5" y="311.7" width="55.2" height="34.4" stroke="#ffffff" stroke-width="0.8" fill="none"/>
<line x1="411.8" y1="311.7" x2="411.8" y2="346.1" stroke="#ffffff" stroke-width="0.8"/>
<circle cx="430.3" cy="329.2" r="11.7" stroke="#ffffff" stroke-width="0.9" fill="none"/>
<line x1="421.0" y1="338.0" x2="440.0" y2="320.0" stroke="#ffffff" stroke-width="0.4"/>
<line x1="393.5" y1="342.4" x2="448.7" y2="342.4" stroke="#ffffff" stroke-width="0.6"/>
<line x1="370.0" y1="346.7" x2="448.7" y2="346.7" stroke="#ffffff" stroke-width="0.8"/>
<line x1="377.7" y1="354.6" x2="448.7" y2="354.6" stroke="#ffffff" stroke-width="0.7"/>
<line x1="377.9" y1="363.8" x2="449.2" y2="363.8" stroke="#ffffff" stroke-width="0.8"/>
<line x1="380.0" y1="376.5" x2="435.0" y2="376.5" stroke="#bdbdbd" stroke-width="0.5"/>
<line x1="375.0" y1="383.2" x2="452.8" y2="383.2" stroke="#bdbdbd" stroke-width="0.5"/>
<line x1="296.7" y1="377.8" x2="380.0" y2="377.8" stroke="#bdbdbd" stroke-width="0.45"/>
<line x1="290.0" y1="385.1" x2="452.8" y2="385.1" stroke="#bdbdbd" stroke-width="0.5"/>
<line x1="319.0" y1="394.0" x2="446.7" y2="394.0" stroke="#bdbdbd" stroke-width="0.5"/>
<line x1="373.7" y1="402.6" x2="452.8" y2="402.6" stroke="#bdbdbd" stroke-width="0.5"/>
<line x1="320.2" y1="365.0" x2="320.2" y2="396.0" stroke="#bdbdbd" stroke-width="0.45"/>
<line x1="342.4" y1="365.0" x2="342.4" y2="396.0" stroke="#bdbdbd" stroke-width="0.45"/>
<line x1="371.0" y1="365.0" x2="371.0" y2="396.0" stroke="#bdbdbd" stroke-width="0.45"/>
<line x1="375.0" y1="365.0" x2="375.0" y2="396.0" stroke="#bdbdbd" stroke-width="0.45"/>
<line x1="446.7" y1="365.0" x2="446.7" y2="404.0" stroke="#bdbdbd" stroke-width="0.45"/>
<line x1="452.8" y1="365.0" x2="452.8" y2="404.0" stroke="#bdbdbd" stroke-width="0.45"/>
<rect x="383.9" y="318.6" width="5.2" height="2.8" fill="#ffffff" opacity="0.85"/>
<rect x="400.9" y="318.6" width="5.2" height="2.8" fill="#ffffff" opacity="0.85"/>
<rect x="383.9" y="336.6" width="5.2" height="2.8" fill="#ffffff" opacity="0.85"/>
<rect x="400.9" y="336.6" width="5.2" height="2.8" fill="#ffffff" opacity="0.85"/>
<rect x="392.4" y="349.1" width="5.2" height="2.8" fill="#ffffff" opacity="0.85"/>
<rect x="427.4" y="349.1" width="5.2" height="2.8" fill="#ffffff" opacity="0.85"/>
<rect x="392.4" y="357.9" width="5.2" height="2.8" fill="#ffffff" opacity="0.85"/>
<rect x="427.4" y="357.9" width="5.2" height="2.8" fill="#ffffff" opacity="0.85"/>
<rect x="392.4" y="366.8" width="5.2" height="2.8" fill="#ffffff" opacity="0.85"/>
<rect x="427.4" y="366.8" width="5.2" height="2.8" fill="#ffffff" opacity="0.85"/>
<polyline points="380.0,316.0 384.0,318.0 388.0,329.0 390.0,342.0" stroke="#ffffff" stroke-width="0.5" fill="none"/>
<line x1="377.7" y1="330.0" x2="393.5" y2="330.0" stroke="#ffffff" stroke-width="0.4"/>
<polyline points="421.0,360.6 424.0,356.0 429.0,356.0 432.0,360.0 429.0,365.0 423.0,365.0 421.0,360.6" stroke="#ffffff" stroke-width="0.6" fill="none"/>
<text x="423.5" y="361.2" font-size="2.60" fill="#ffffff" opacity="1.00" textLength="5.5" lengthAdjust="spacingAndGlyphs">1.10</text>
<line x1="405.0" y1="360.0" x2="405.0" y2="372.0" stroke="#ffffff" stroke-width="0.4"/>
<line x1="402.0" y1="367.0" x2="409.0" y2="367.0" stroke="#ffffff" stroke-width="0.4"/>
<line x1="435.0" y1="358.0" x2="443.0" y2="362.0" stroke="#ffffff" stroke-width="0.4"/>
<line x1="448.0" y1="273.0" x2="420.0" y2="312.0" stroke="#ffffff" stroke-width="0.5"/>
<rect x="415.0" y="337.0" width="3.5" height="7.0" fill="#888"/>
<line x1="373.7" y1="286.7" x2="452.8" y2="286.7" stroke="#bdbdbd" stroke-width="0.5"/>
<line x1="373.7" y1="284.5" x2="373.7" y2="300.0" stroke="#bdbdbd" stroke-width="0.45"/>
<line x1="380.2" y1="284.5" x2="380.2" y2="300.0" stroke="#bdbdbd" stroke-width="0.45"/>
<line x1="445.4" y1="284.5" x2="445.4" y2="300.0" stroke="#bdbdbd" stroke-width="0.45"/>
<line x1="452.8" y1="284.5" x2="452.8" y2="300.0" stroke="#bdbdbd" stroke-width="0.45"/>
<text x="375.0" y="285.8" font-size="2.08" fill="#ffffff" opacity="0.85" textLength="5.0" lengthAdjust="spacingAndGlyphs">0.05</text>
<text x="411.4" y="285.8" font-size="2.08" fill="#ffffff" opacity="0.85" textLength="5.2" lengthAdjust="spacingAndGlyphs">0.30</text>
<text x="444.4" y="285.8" font-size="2.08" fill="#ffffff" opacity="0.85" textLength="5.2" lengthAdjust="spacingAndGlyphs">0.20</text>
<line x1="376.3" y1="299.0" x2="449.3" y2="299.0" stroke="#bdbdbd" stroke-width="0.5"/>
<line x1="376.3" y1="297.0" x2="376.3" y2="311.0" stroke="#bdbdbd" stroke-width="0.45"/>
<line x1="381.0" y1="297.0" x2="381.0" y2="311.0" stroke="#bdbdbd" stroke-width="0.45"/>
<line x1="393.5" y1="297.0" x2="393.5" y2="311.0" stroke="#bdbdbd" stroke-width="0.45"/>
<line x1="412.0" y1="297.0" x2="412.0" y2="311.0" stroke="#bdbdbd" stroke-width="0.45"/>
<line x1="449.3" y1="297.0" x2="449.3" y2="311.0" stroke="#bdbdbd" stroke-width="0.45"/>
<text x="383.0" y="298.3" font-size="2.08" fill="#ffffff" opacity="0.85" textLength="5.0" lengthAdjust="spacingAndGlyphs">0.15</text>
<text x="395.0" y="298.3" font-size="2.08" fill="#ffffff" opacity="0.85" textLength="5.0" lengthAdjust="spacingAndGlyphs">1.50</text>
<text x="406.0" y="298.3" font-size="2.08" fill="#ffffff" opacity="0.85" textLength="5.0" lengthAdjust="spacingAndGlyphs">0.60</text>
<text x="416.0" y="298.3" font-size="2.08" fill="#ffffff" opacity="0.85" textLength="5.0" lengthAdjust="spacingAndGlyphs">0.10</text>
<text x="428.0" y="298.3" font-size="2.08" fill="#ffffff" opacity="0.85" textLength="5.0" lengthAdjust="spacingAndGlyphs">2.00</text>
<line x1="373.7" y1="286.0" x2="373.7" y2="330.0" stroke="#bdbdbd" stroke-width="0.45"/>
<line x1="378.4" y1="299.0" x2="378.4" y2="325.0" stroke="#bdbdbd" stroke-width="0.45"/>
<line x1="395.4" y1="300.0" x2="395.4" y2="311.7" stroke="#bdbdbd" stroke-width="0.45"/>
<line x1="412.4" y1="300.0" x2="412.4" y2="311.7" stroke="#bdbdbd" stroke-width="0.45"/>
<line x1="400.0" y1="287.3" x2="452.0" y2="287.3" stroke="#bdbdbd" stroke-width="0.45"/>
<line x1="452.8" y1="283.0" x2="452.8" y2="404.0" stroke="#bdbdbd" stroke-width="0.5"/>
<line x1="444.4" y1="300.0" x2="444.4" y2="311.0" stroke="#bdbdbd" stroke-width="0.45"/>
<line x1="467.7" y1="318.0" x2="467.7" y2="345.0" stroke="#bdbdbd" stroke-width="0.45"/>
<line x1="476.5" y1="306.4" x2="476.5" y2="390.5" stroke="#bdbdbd" stroke-width="0.5"/>
<line x1="485.8" y1="306.4" x2="485.8" y2="390.5" stroke="#bdbdbd" stroke-width="0.5"/>
<line x1="448.0" y1="306.4" x2="488.0" y2="306.4" stroke="#bdbdbd" stroke-width="0.45"/>
<line x1="448.0" y1="315.2" x2="488.0" y2="315.2" stroke="#bdbdbd" stroke-width="0.45"/>
<line x1="448.0" y1="340.3" x2="488.0" y2="340.3" stroke="#bdbdbd" stroke-width="0.45"/>
<line x1="448.0" y1="346.6" x2="488.0" y2="346.6" stroke="#bdbdbd" stroke-width="0.45"/>
<line x1="448.0" y1="390.5" x2="488.0" y2="390.5" stroke="#bdbdbd" stroke-width="0.45"/>
<text x="477.6" y="342.2" font-size="2.60" fill="#ffffff" opacity="0.85" textLength="6.4" lengthAdjust="spacingAndGlyphs" transform="rotate(-90 477.6 342.2)">0.25</text>
<text x="486.8" y="352.2" font-size="2.60" fill="#ffffff" opacity="0.85" textLength="6.4" lengthAdjust="spacingAndGlyphs" transform="rotate(-90 486.8 352.2)">1.10</text>
<text x="468.6" y="333.2" font-size="2.60" fill="#ffffff" opacity="0.85" textLength="6.4" lengthAdjust="spacingAndGlyphs" transform="rotate(-90 468.6 333.2)">0.05</text>
<text x="477.6" y="385.2" font-size="2.60" fill="#ffffff" opacity="0.85" textLength="6.4" lengthAdjust="spacingAndGlyphs" transform="rotate(-90 477.6 385.2)">0.30</text>
<text x="477.6" y="324.7" font-size="2.60" fill="#ffffff" opacity="0.85" textLength="6.4" lengthAdjust="spacingAndGlyphs" transform="rotate(-90 477.6 324.7)">0.20</text>
<line x1="445.0" y1="326.0" x2="500.0" y2="336.0" stroke="#ffffff" stroke-width="0.5"/>
<text x="500.9" y="334.2" font-size="2.60" fill="#ffffff" opacity="0.94" textLength="24.2" lengthAdjust="spacingAndGlyphs">DETALLE TUBERIA</text>
<rect x="500.4" y="336.0" width="7.6" height="6.0" fill="#999"/>
<text x="508.0" y="341.0" font-size="1.95" fill="#ffffff" opacity="0.77" textLength="17.0" lengthAdjust="spacingAndGlyphs">E TUBERIA PVC N</text>
<line x1="445.0" y1="360.0" x2="490.0" y2="370.0" stroke="#ffffff" stroke-width="0.5"/>
<text x="490.5" y="368.1" font-size="2.21" fill="#ffffff" opacity="0.94" textLength="26.5" lengthAdjust="spacingAndGlyphs">APA DE CONCRETO ARMA</text>
<text x="490.5" y="371.9" font-size="2.60" fill="#ffffff" opacity="0.85" textLength="6.4" lengthAdjust="spacingAndGlyphs">0.10</text>
<text x="490.4" y="375.0" font-size="1.95" fill="#ffffff" opacity="0.77" textLength="24.2" lengthAdjust="spacingAndGlyphs">O ARMADO VER DETALLE</text>
<circle cx="505.4" cy="360.0" r="5.8" stroke="#ffffff" stroke-width="0.6" fill="none"/>
<line x1="499.6" y1="360.0" x2="511.2" y2="360.0" stroke="#ffffff" stroke-width="0.6"/>
<text x="505.4" y="358.8" font-size="4.5" fill="#ffffff" text-anchor="middle">A</text>
<line x1="503.9" y1="362.8" x2="506.9" y2="362.8" stroke="#ffffff" stroke-width="0.6"/>
<line x1="505.4" y1="354.2" x2="505.4" y2="344.2" stroke="#ffffff" stroke-width="0.6"/>
<polyline points="503.4,346.2 505.4,343.7 507.4,346.2" stroke="#ffffff" stroke-width="0.6" fill="none"/>
<line x1="502.4" y1="350.2" x2="508.4" y2="350.2" stroke="#ffffff" stroke-width="0.6"/>
<line x1="492.0" y1="351.6" x2="500.0" y2="351.6" stroke="#ffffff" stroke-width="0.5"/>
<text x="448.4" y="272.2" font-size="2.34" fill="#ffffff" opacity="0.94" textLength="26.9" lengthAdjust="spacingAndGlyphs">O VER DETALLE TUBER</text>
<text x="448.8" y="275.7" font-size="2.34" fill="#ffffff" opacity="0.77" textLength="5.8" lengthAdjust="spacingAndGlyphs">1.10</text>
<text x="448.4" y="278.3" font-size="1.95" fill="#ffffff" opacity="0.77" textLength="25.6" lengthAdjust="spacingAndGlyphs">TUBERIA PVC NIVEL DE A</text>
<line x1="400.0" y1="287.3" x2="452.5" y2="287.3" stroke="#bdbdbd" stroke-width="0.45"/>
<line x1="290.7" y1="309.0" x2="290.7" y2="385.1" stroke="#bdbdbd" stroke-width="0.5"/>
<line x1="296.0" y1="318.0" x2="296.0" y2="377.8" stroke="#bdbdbd" stroke-width="0.5"/>
<line x1="306.7" y1="330.0" x2="306.7" y2="362.0" stroke="#bdbdbd" stroke-width="0.45"/>
<line x1="310.9" y1="333.0" x2="310.9" y2="360.0" stroke="#bdbdbd" stroke-width="0.45"/>
<line x1="290.0" y1="309.0" x2="350.0" y2="309.0" stroke="#bdbdbd" stroke-width="0.45"/>
<line x1="296.0" y1="315.4" x2="349.0" y2="315.4" stroke="#bdbdbd" stroke-width="0.45"/>
<line x1="305.0" y1="362.7" x2="342.0" y2="362.7" stroke="#bdbdbd" stroke-width="0.45"/>
<text x="291.6" y="349.7" font-size="2.60" fill="#ffffff" opacity="0.85" textLength="6.4" lengthAdjust="spacingAndGlyphs" transform="rotate(-90 291.6 349.7)">0.30</text>
<text x="296.9" y="349.7" font-size="2.60" fill="#ffffff" opacity="0.85" textLength="6.4" lengthAdjust="spacingAndGlyphs" transform="rotate(-90 296.9 349.7)">0.20</text>
<text x="307.6" y="349.0" font-size="2.60" fill="#ffffff" opacity="0.85" textLength="6.0" lengthAdjust="spacingAndGlyphs" transform="rotate(-90 307.6 349.0)">0.15</text>
<text x="296.9" y="315.0" font-size="2.60" fill="#ffffff" opacity="0.85" textLength="4.0" lengthAdjust="spacingAndGlyphs" transform="rotate(-90 296.9 315.0)">1.50</text>
<text x="291.6" y="382.0" font-size="2.60" fill="#ffffff" opacity="0.85" textLength="5.0" lengthAdjust="spacingAndGlyphs" transform="rotate(-90 291.6 382.0)">0.60</text>
<text x="311.8" y="358.0" font-size="2.60" fill="#ffffff" opacity="0.85" textLength="5.0" lengthAdjust="spacingAndGlyphs" transform="rotate(-90 311.8 358.0)">0.10</text>
<text x="330.9" y="393.5" font-size="2.08" fill="#ffffff" opacity="0.85" textLength="5.2" lengthAdjust="spacingAndGlyphs">2.00</text>
<text x="354.4" y="393.5" font-size="2.08" fill="#ffffff" opacity="0.85" textLength="5.2" lengthAdjust="spacingAndGlyphs">0.25</text>
<text x="410.0" y="393.5" font-size="2.08" fill="#ffffff" opacity="0.85" textLength="10.0" lengthAdjust="spacingAndGlyphs">1.10 0.05</text>
<text x="410.0" y="384.7" font-size="2.08" fill="#ffffff" opacity="0.85" textLength="10.0" lengthAdjust="spacingAndGlyphs">0.05 0.30</text>
<text x="410.0" y="376.8" font-size="2.08" fill="#ffffff" opacity="0.85" textLength="10.0" lengthAdjust="spacingAndGlyphs">0.30 0.20</text>
<text x="410.0" y="402.2" font-size="2.08" fill="#ffffff" opacity="0.85" textLength="10.0" lengthAdjust="spacingAndGlyphs">0.20 0.15</text>
<text x="380.4" y="376.8" font-size="2.08" fill="#ffffff" opacity="0.85" textLength="5.2" lengthAdjust="spacingAndGlyphs">0.15</text>
<text x="441.4" y="376.8" font-size="2.08" fill="#ffffff" opacity="0.85" textLength="5.2" lengthAdjust="spacingAndGlyphs">1.50</text>
<text x="308.5" y="290.2" font-size="2.60" fill="#ffffff" opacity="0.85" textLength="26.1" lengthAdjust="spacingAndGlyphs">DO VER DETALLE TU</text>
<text x="294.0" y="298.2" font-size="2.34" fill="#ffffff" opacity="0.85" textLength="24.4" lengthAdjust="spacingAndGlyphs">DETALLE TUBERIA P</text>
<text x="295.8" y="301.6" font-size="2.60" fill="#ffffff" opacity="0.85" textLength="6.4" lengthAdjust="spacingAndGlyphs">2.00</text>
<text x="294.0" y="305.0" font-size="1.95" fill="#ffffff" opacity="0.77" textLength="21.0" lengthAdjust="spacingAndGlyphs">PA DE CONCRETO ARM</text>
<text x="316.5" y="305.2" font-size="2.60" fill="#ffffff" opacity="0.85" textLength="2.5" lengthAdjust="spacingAndGlyphs">1.10</text>
<line x1="318.0" y1="290.5" x2="326.0" y2="331.0" stroke="#ffffff" stroke-width="0.4"/>
<text x="335.9" y="295.9" font-size="2.60" fill="#ffffff" opacity="0.85" textLength="27.3" lengthAdjust="spacingAndGlyphs">ARMADO VER DETALL</text>
<text x="337.3" y="299.9" font-size="2.60" fill="#ffffff" opacity="0.85" textLength="6.4" lengthAdjust="spacingAndGlyphs">0.30</text>
<text x="336.0" y="302.5" font-size="2.08" fill="#ffffff" opacity="0.77" textLength="27.0" lengthAdjust="spacingAndGlyphs">TALLE TUBERIA PVC NIVE</text>
<line x1="310.0" y1="306.0" x2="321.0" y2="331.0" stroke="#ffffff" stroke-width="0.4"/>
<line x1="358.0" y1="303.0" x2="366.0" y2="323.0" stroke="#ffffff" stroke-width="0.4"/>
<circle cx="341.0" cy="279.0" r="5.8" stroke="#ffffff" stroke-width="0.6" fill="none"/>
<line x1="335.2" y1="279.0" x2="346.8" y2="279.0" stroke="#ffffff" stroke-width="0.6"/>
<text x="341.0" y="277.8" font-size="4.5" fill="#ffffff" text-anchor="middle">A</text>
<line x1="339.5" y1="281.8" x2="342.5" y2="281.8" stroke="#ffffff" stroke-width="0.6"/>
<line x1="346.8" y1="279.0" x2="356.8" y2="279.0" stroke="#ffffff" stroke-width="0.6"/>
<polyline points="354.8,277.0 357.3,279.0 354.8,281.0" stroke="#ffffff" stroke-width="0.6" fill="none"/>
<line x1="350.8" y1="276.0" x2="350.8" y2="282.0" stroke="#ffffff" stroke-width="0.6"/>
<circle cx="341.1" cy="406.5" r="5.8" stroke="#ffffff" stroke-width="0.6" fill="none"/>
<line x1="335.3" y1="406.5" x2="346.9" y2="406.5" stroke="#ffffff" stroke-width="0.6"/>
<text x="341.1" y="405.3" font-size="4.5" fill="#ffffff" text-anchor="middle">A</text>
<line x1="339.6" y1="409.3" x2="342.6" y2="409.3" stroke="#ffffff" stroke-width="0.6"/>
<line x1="346.9" y1="406.5" x2="356.9" y2="406.5" stroke="#ffffff" stroke-width="0.6"/>
<polyline points="354.9,404.5 357.4,406.5 354.9,408.5" stroke="#ffffff" stroke-width="0.6" fill="none"/>
<line x1="350.9" y1="403.5" x2="350.9" y2="409.5" stroke="#ffffff" stroke-width="0.6"/>
<circle cx="425.3" cy="410.4" r="5.8" stroke="#ffffff" stroke-width="0.6" fill="none"/>
<line x1="419.5" y1="410.4" x2="431.1" y2="410.4" stroke="#ffffff" stroke-width="0.6"/>
<text x="425.3" y="409.2" font-size="4.5" fill="#ffffff" text-anchor="middle">A</text>
<line x1="423.8" y1="413.2" x2="426.8" y2="413.2" stroke="#ffffff" stroke-width="0.6"/>
<line x1="431.1" y1="410.4" x2="441.1" y2="410.4" stroke="#ffffff" stroke-width="0.6"/>
<polyline points="439.1,408.4 441.6,410.4 439.1,412.4" stroke="#ffffff" stroke-width="0.6" fill="none"/>
<line x1="435.1" y1="407.4" x2="435.1" y2="413.4" stroke="#ffffff" stroke-width="0.6"/>
<circle cx="277.0" cy="360.1" r="5.8" stroke="#ffffff" stroke-width="0.6" fill="none"/>
<line x1="271.2" y1="360.1" x2="282.8" y2="360.1" stroke="#ffffff" stroke-width="0.6"/>
<text x="277.0" y="358.9" font-size="4.5" fill="#ffffff" text-anchor="middle">A</text>
<line x1="275.5" y1="362.9" x2="278.5" y2="362.9" stroke="#ffffff" stroke-width="0.6"/>
<line x1="277.0" y1="354.3" x2="277.0" y2="344.3" stroke="#ffffff" stroke-width="0.6"/>
<polyline points="275.0,346.3 277.0,343.8 279.0,346.3" stroke="#ffffff" stroke-width="0.6" fill="none"/>
<line x1="274.0" y1="350.3" x2="280.0" y2="350.3" stroke="#ffffff" stroke-width="0.6"/>
<text x="362.7" y="424.9" font-size="4.8" fill="#ffffff" text-anchor="start" textLength="78.7" lengthAdjust="spacingAndGlyphs">PLANTA  COBERTURA   -   TAPAS</text>
<line x1="362.0" y1="425.6" x2="444.4" y2="425.6" stroke="#ffffff" stroke-width="0.5"/>
</svg></body></html>
